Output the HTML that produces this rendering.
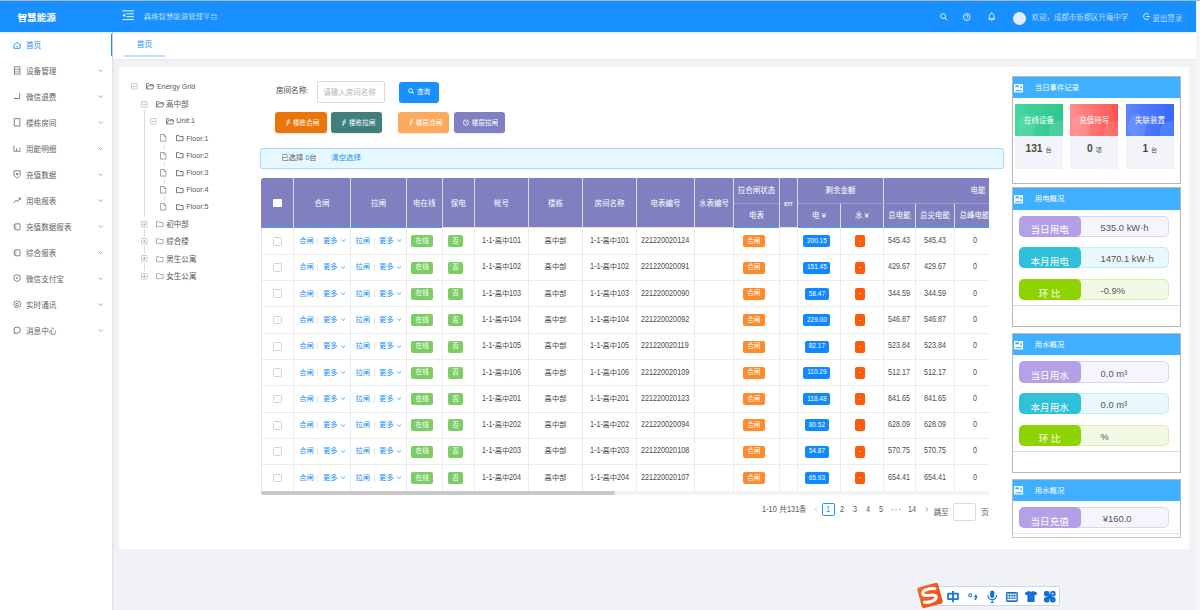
<!DOCTYPE html>
<html><head><meta charset="utf-8"><title>智慧能源</title>
<style>
html,body{margin:0;padding:0}
body{width:1200px;height:610px;overflow:hidden;position:relative;font-family:"Liberation Sans","Noto Sans CJK SC",sans-serif;background:#f0f2f5}
.b{position:absolute}
.t{position:absolute;white-space:nowrap}
svg.b{overflow:visible}
.d{display:inline-block}
.d>span{display:inline-block;transform-origin:0 0;line-height:1}
</style></head><body>
<div class="b" style="left:0.00px;top:0.00px;width:1200.00px;height:610.00px;background:#f0f2f5"></div><div class="b" style="left:1196.00px;top:0.00px;width:4.00px;height:610.00px;background:#f6f6f6"></div><div class="b" style="left:0.00px;top:31.90px;width:112.20px;height:578.10px;background:#fff;box-shadow:1px 0 3px rgba(0,21,41,.06)"></div><div class="b" style="left:113.20px;top:31.90px;width:1082.80px;height:27.10px;background:#fff;box-shadow:0 1px 2px rgba(0,0,0,.04)"></div><div class="b" style="left:119.00px;top:67.00px;width:1070.20px;height:482.20px;background:#fff"></div><div class="b" style="left:112.20px;top:31.90px;width:1.00px;height:27.10px;background:#d2d2d2"></div><div class="b" style="left:112.20px;top:59.00px;width:1.00px;height:551.00px;background:#e3e5e9"></div><div class="b" style="left:0.00px;top:0.00px;width:1196.00px;height:32.00px;background:#1890ff;box-shadow:0 1px 2px rgba(0,21,41,.12)"></div><div class="b" style="left:0.00px;top:0.00px;width:1200.00px;height:1.00px;background:#a9b7c6"></div><div class="t" style="top:8.20px;font-size:9.6px;line-height:19.2px;color:#fff;font-weight:bold;left:17.50px;">智慧能源</div><svg class="b" style="left:121.8px;top:9.6px" width="12.2" height="10.6" viewBox="0 0 12.2 10.6"><g stroke="#fff" stroke-width=".95" fill="none"><line x1="0.3" y1="0.9" x2="11.9" y2="0.9"/><line x1="4.4" y1="3.8" x2="11.9" y2="3.8"/><line x1="4.4" y1="6.7" x2="11.9" y2="6.7"/><line x1="0.3" y1="9.6" x2="11.9" y2="9.6"/></g><path d="M0.4 5.25 L3.2 3.5 L3.2 7 Z" fill="#fff"/></svg><div class="t" style="top:9.80px;font-size:7.4px;line-height:14.8px;color:#fff;left:143.80px;font-weight:300;">森维智慧能源管理平台</div><svg class="b" style="left:939.8px;top:12.8px" width="8" height="8" viewBox="0 0 8 8"><circle cx="3.1" cy="3.1" r="2.4" stroke="#fff" stroke-width=".85" fill="none"/><line x1="4.9" y1="4.9" x2="7.2" y2="7.2" stroke="#fff" stroke-width=".95"/></svg><svg class="b" style="left:962.6px;top:12.8px" width="8" height="8.4" viewBox="0 0 8 8.4"><ellipse cx="3.8" cy="4" rx="3.3" ry="3.5" stroke="#fff" stroke-width=".8" fill="none"/><path d="M2.7 3.2 Q2.8 2.1 3.8 2.1 Q4.9 2.1 4.9 3.1 Q4.9 3.8 3.9 4.3 L3.9 5" stroke="#fff" stroke-width=".7" fill="none"/><circle cx="3.9" cy="6" r=".45" fill="#fff"/></svg><svg class="b" style="left:988px;top:11.8px" width="7.4" height="9.2" viewBox="0 0 7.4 9.2"><path d="M1.3 7 L1.3 4.2 Q1.3 1.6 3.7 1.6 Q6.1 1.6 6.1 4.2 L6.1 7 Z" stroke="#fff" stroke-width=".8" fill="none"/><line x1=".4" y1="7.1" x2="7" y2="7.1" stroke="#fff" stroke-width=".8"/><line x1="3.7" y1=".3" x2="3.7" y2="1.6" stroke="#fff" stroke-width=".8"/><path d="M2.9 7.9 Q3.7 9 4.5 7.9" stroke="#fff" stroke-width=".75" fill="none"/></svg><div class="b" style="left:1013.30px;top:11.60px;width:13.00px;height:13.00px;background:#e3efff;border-radius:50%"></div><div class="t" style="top:10.95px;font-size:7.45px;line-height:14.9px;color:#fff;left:1031.60px;font-weight:300;">欢迎，成都市新都区升庵中学</div><svg class="b" style="left:1143px;top:13.3px" width="7" height="7" viewBox="0 0 7 7"><path d="M5.8 1.6 A3 3 0 1 0 5.8 5.4" stroke="#fff" stroke-width=".85" fill="none"/><line x1="3" y1="3.5" x2="6.8" y2="3.5" stroke="#fff" stroke-width=".85"/></svg><div class="t" style="top:10.90px;font-size:7.5px;line-height:15.0px;color:#fff;left:1152.30px;font-weight:300;">退出登录</div><div class="t" style="top:38.00px;font-size:7.6px;line-height:15.2px;color:#1890ff;left:26.00px;">首页</div><div class="t" style="top:64.00px;font-size:7.6px;line-height:15.2px;color:#626262;left:26.00px;">设备管理</div><svg class="b" style="left:97.8px;top:68.8px" width="5" height="3.4" viewBox="0 0 5 3.4"><path d="M.5 .6 L2.5 2.6 L4.5 .6" stroke="#888" stroke-width=".75" fill="none"/></svg><div class="t" style="top:90.00px;font-size:7.6px;line-height:15.2px;color:#626262;left:26.00px;">微信退费</div><svg class="b" style="left:97.8px;top:94.8px" width="5" height="3.4" viewBox="0 0 5 3.4"><path d="M.5 .6 L2.5 2.6 L4.5 .6" stroke="#888" stroke-width=".75" fill="none"/></svg><div class="t" style="top:116.00px;font-size:7.6px;line-height:15.2px;color:#626262;left:26.00px;">楼栋房间</div><svg class="b" style="left:97.8px;top:120.8px" width="5" height="3.4" viewBox="0 0 5 3.4"><path d="M.5 .6 L2.5 2.6 L4.5 .6" stroke="#888" stroke-width=".75" fill="none"/></svg><div class="t" style="top:142.00px;font-size:7.6px;line-height:15.2px;color:#626262;left:26.00px;">用能明细</div><svg class="b" style="left:97.8px;top:146.8px" width="5" height="3.4" viewBox="0 0 5 3.4"><path d="M.5 .6 L2.5 2.6 L4.5 .6" stroke="#888" stroke-width=".75" fill="none"/></svg><div class="t" style="top:168.00px;font-size:7.6px;line-height:15.2px;color:#626262;left:26.00px;">充值数据</div><svg class="b" style="left:97.8px;top:172.8px" width="5" height="3.4" viewBox="0 0 5 3.4"><path d="M.5 .6 L2.5 2.6 L4.5 .6" stroke="#888" stroke-width=".75" fill="none"/></svg><div class="t" style="top:194.00px;font-size:7.6px;line-height:15.2px;color:#626262;left:26.00px;">用电报表</div><svg class="b" style="left:97.8px;top:198.8px" width="5" height="3.4" viewBox="0 0 5 3.4"><path d="M.5 .6 L2.5 2.6 L4.5 .6" stroke="#888" stroke-width=".75" fill="none"/></svg><div class="t" style="top:220.00px;font-size:7.6px;line-height:15.2px;color:#626262;left:26.00px;">充值数据报表</div><svg class="b" style="left:97.8px;top:224.8px" width="5" height="3.4" viewBox="0 0 5 3.4"><path d="M.5 .6 L2.5 2.6 L4.5 .6" stroke="#888" stroke-width=".75" fill="none"/></svg><div class="t" style="top:246.00px;font-size:7.6px;line-height:15.2px;color:#626262;left:26.00px;">综合报表</div><svg class="b" style="left:97.8px;top:250.8px" width="5" height="3.4" viewBox="0 0 5 3.4"><path d="M.5 .6 L2.5 2.6 L4.5 .6" stroke="#888" stroke-width=".75" fill="none"/></svg><div class="t" style="top:272.00px;font-size:7.6px;line-height:15.2px;color:#626262;left:26.00px;">微信支付宝</div><svg class="b" style="left:97.8px;top:276.8px" width="5" height="3.4" viewBox="0 0 5 3.4"><path d="M.5 .6 L2.5 2.6 L4.5 .6" stroke="#888" stroke-width=".75" fill="none"/></svg><div class="t" style="top:298.00px;font-size:7.6px;line-height:15.2px;color:#626262;left:26.00px;">实时通讯</div><svg class="b" style="left:97.8px;top:302.8px" width="5" height="3.4" viewBox="0 0 5 3.4"><path d="M.5 .6 L2.5 2.6 L4.5 .6" stroke="#888" stroke-width=".75" fill="none"/></svg><div class="t" style="top:324.00px;font-size:7.6px;line-height:15.2px;color:#626262;left:26.00px;">消息中心</div><svg class="b" style="left:97.8px;top:328.8px" width="5" height="3.4" viewBox="0 0 5 3.4"><path d="M.5 .6 L2.5 2.6 L4.5 .6" stroke="#888" stroke-width=".75" fill="none"/></svg><div class="b" style="left:110.80px;top:34.00px;width:1.40px;height:22.20px;background:#1890ff"></div><svg class="b" style="left:12.5px;top:41.0px" width="9" height="8.5" viewBox="0 0 9 8.5"><path d="M.6 4.5 L4.15 1.1 L8.0 4.5 M.9 4.3 L.9 7.3 L7.1 7.3 L7.1 3.9 M3.6 5.6 L5.0 5.6" stroke="#1890ff" stroke-width=".9" fill="none" stroke-linejoin="round"/></svg><svg class="b" style="left:12.8px;top:66.0px" width="8" height="9" viewBox="0 0 8 9"><rect x="1.3" y=".9" width="5.6" height="7.2" stroke="#666" stroke-width=".75" fill="none"/><line x1="1.3" y1="3.4" x2="6.9" y2="3.4" stroke="#666" stroke-width=".7"/><line x1="1.3" y1="5.9" x2="6.9" y2="5.9" stroke="#666" stroke-width=".7"/></svg><svg class="b" style="left:12.8px;top:92.0px" width="8" height="9" viewBox="0 0 8 9"><path d="M6.6 1.2 L6.6 6.5 L1.4 6.5" stroke="#666" stroke-width=".8" fill="none"/><rect x="1.1" y="5.9" width="1.1" height="1.2" fill="#666"/></svg><svg class="b" style="left:12.8px;top:118.0px" width="8" height="9" viewBox="0 0 8 9"><path d="M1.3 .6 L6.9 .6 L6.9 8.1 L4.6 8.1 L4.1 7.3 L3.6 8.1 L1.3 8.1 Z" stroke="#666" stroke-width=".8" fill="none" stroke-linejoin="round"/></svg><svg class="b" style="left:12.8px;top:144.0px" width="8" height="9" viewBox="0 0 8 9"><path d="M.9 1.4 L.9 7.3 L7.8 7.3" stroke="#666" stroke-width=".75" fill="none"/><path d="M3.3 7 L3.3 4.6 Q3.7 3.2 4.1 4.6 L4.1 7 Z" fill="#666"/><line x1="6.9" y1="3.2" x2="6.9" y2="7" stroke="#666" stroke-width=".6"/></svg><svg class="b" style="left:12.8px;top:170.0px" width="8" height="9" viewBox="0 0 8 9"><path d="M1 .8 L7.2 .8 L7.2 5.3 L4.1 8.3 L1 5.3 Z" stroke="#666" stroke-width=".8" fill="none" stroke-linejoin="round"/><circle cx="4.1" cy="4.1" r="1.05" fill="#666"/></svg><svg class="b" style="left:12.8px;top:196.0px" width="8" height="9" viewBox="0 0 8 9"><path d="M.8 6.8 L3 4.2 L4.6 5.6 L7.4 2.2" stroke="#666" stroke-width=".9" fill="none"/><path d="M5.6 2 L7.5 2 L7.5 3.9" stroke="#666" stroke-width=".8" fill="none"/></svg><svg class="b" style="left:12.8px;top:222.0px" width="8" height="9" viewBox="0 0 8 9"><path d="M2.7 1.8 L7 1.8 L7 7.8 L2.7 7.8 Z" stroke="#666" stroke-width=".75" fill="none"/><path d="M2.7 1.8 Q1.3 2 1.3 3.3 L1.3 6.5 Q1.4 7.7 2.7 7.8" stroke="#666" stroke-width=".8" fill="#ddd"/></svg><svg class="b" style="left:12.8px;top:248.0px" width="8" height="9" viewBox="0 0 8 9"><path d="M2.7 1.8 L7 1.8 L7 7.8 L2.7 7.8 Z" stroke="#666" stroke-width=".75" fill="none"/><path d="M2.7 1.8 Q1.3 2 1.3 3.3 L1.3 6.5 Q1.4 7.7 2.7 7.8" stroke="#666" stroke-width=".8" fill="#ddd"/></svg><svg class="b" style="left:12.8px;top:274.0px" width="8" height="9" viewBox="0 0 8 9"><path d="M4.1 .6 L7.1 1.9 L7.1 5.7 L4.1 7.6 L1.1 5.7 L1.1 1.9 Z" stroke="#666" stroke-width=".8" fill="none" stroke-linejoin="round"/><ellipse cx="4.1" cy="4.1" rx=".7" ry="1.1" fill="#666"/></svg><svg class="b" style="left:12.8px;top:300.0px" width="8" height="9" viewBox="0 0 8 9"><circle cx="4" cy="4.5" r="1.3" stroke="#666" stroke-width=".8" fill="none"/><path d="M4 .7 L5.1 1.6 L6.6 1.3 L6.9 2.8 L8 3.9 L7.1 5 L7.3 6.6 L5.8 6.9 L4.6 8 L3.5 7.1 L1.9 7.3 L1.6 5.8 L.5 4.6 L1.4 3.5 L1.2 1.9 L2.7 1.6 Z" stroke="#666" stroke-width=".75" fill="none"/></svg><svg class="b" style="left:12.8px;top:326.0px" width="8" height="9" viewBox="0 0 8 9"><path d="M1 7.5 L1.6 5.9 Q.7 4.9 .8 4 Q1 1.1 4.1 1 Q7.3 1 7.4 4 Q7.4 7.2 4 7.3 Q2.8 7.3 2.3 7 Z" stroke="#666" stroke-width=".85" fill="none"/></svg><div class="t" style="top:37.30px;font-size:7.7px;line-height:15.4px;color:#1890ff;left:136.80px;">首页</div><div class="b" style="left:124.00px;top:55.00px;width:40.70px;height:1.80px;background:#bfdfff"></div><div class="b" style="left:144.30px;top:109.50px;width:0.80px;height:107.00px;background:#d9d9d9"></div><div class="b" style="left:164.20px;top:144.70px;width:0.70px;height:4.50px;background:#ddd"></div><div class="b" style="left:164.20px;top:161.90px;width:0.70px;height:4.50px;background:#ddd"></div><div class="b" style="left:164.20px;top:179.10px;width:0.70px;height:4.50px;background:#ddd"></div><div class="b" style="left:164.20px;top:196.30px;width:0.70px;height:4.50px;background:#ddd"></div><div class="b" style="left:144.30px;top:228.50px;width:0.80px;height:8.50px;background:#ddd"></div><div class="b" style="left:144.30px;top:245.70px;width:0.80px;height:8.50px;background:#ddd"></div><div class="b" style="left:144.30px;top:262.90px;width:0.80px;height:8.50px;background:#ddd"></div><svg class="b" style="left:131.1px;top:83.3px" width="6.6" height="6.6" viewBox="0 0 6.6 6.6"><rect x=".5" y=".5" width="5.6" height="5.6" rx=".6" stroke="#bbb" stroke-width=".8" fill="#fff"/><line x1="1.8" y1="3.3" x2="4.8" y2="3.3" stroke="#999" stroke-width=".7"/></svg><svg class="b" style="left:145.8px;top:83.3px" width="8.4" height="6.6" viewBox="0 0 8.4 6.6"><path d="M.5 6 L.5 .6 L3 .6 L3.8 1.5 L7 1.5 L7 2.6 M.5 6 L2 2.8 L8 2.8 L6.6 6 Z" stroke="#555" stroke-width=".7" fill="none" stroke-linejoin="round"/></svg><div class="t" style="top:79.90px;font-size:7.2px;line-height:14.4px;color:#595959;left:157.00px;">Energy Grid</div><svg class="b" style="left:141px;top:100.5px" width="6.6" height="6.6" viewBox="0 0 6.6 6.6"><rect x=".5" y=".5" width="5.6" height="5.6" rx=".6" stroke="#bbb" stroke-width=".8" fill="#fff"/><line x1="1.8" y1="3.3" x2="4.8" y2="3.3" stroke="#999" stroke-width=".7"/></svg><svg class="b" style="left:155.8px;top:100.5px" width="8.4" height="6.6" viewBox="0 0 8.4 6.6"><path d="M.5 6 L.5 .6 L3 .6 L3.8 1.5 L7 1.5 L7 2.6 M.5 6 L2 2.8 L8 2.8 L6.6 6 Z" stroke="#555" stroke-width=".7" fill="none" stroke-linejoin="round"/></svg><div class="t" style="top:96.70px;font-size:7.6px;line-height:15.2px;color:#595959;left:166.00px;">高中部</div><svg class="b" style="left:150.4px;top:117.7px" width="6.6" height="6.6" viewBox="0 0 6.6 6.6"><rect x=".5" y=".5" width="5.6" height="5.6" rx=".6" stroke="#bbb" stroke-width=".8" fill="#fff"/><line x1="1.8" y1="3.3" x2="4.8" y2="3.3" stroke="#999" stroke-width=".7"/></svg><svg class="b" style="left:165.8px;top:117.7px" width="8.4" height="6.6" viewBox="0 0 8.4 6.6"><path d="M.5 6 L.5 .6 L3 .6 L3.8 1.5 L7 1.5 L7 2.6 M.5 6 L2 2.8 L8 2.8 L6.6 6 Z" stroke="#555" stroke-width=".7" fill="none" stroke-linejoin="round"/></svg><div class="t" style="top:114.30px;font-size:7.2px;line-height:14.4px;color:#595959;left:176.20px;">Unit:1</div><svg class="b" style="left:160.4px;top:134.39999999999998px" width="6.4" height="7.6" viewBox="0 0 6.4 7.6"><path d="M.5 .5 L4 .5 L5.9 2.4 L5.9 7.1 L.5 7.1 Z M4 .5 L4 2.4 L5.9 2.4" stroke="#888" stroke-width=".75" fill="none" stroke-linejoin="round"/></svg><svg class="b" style="left:175.8px;top:135.1px" width="7.6" height="6.2" viewBox="0 0 7.6 6.2"><path d="M.5 5.7 L.5 .6 L2.9 .6 L3.7 1.5 L7.1 1.5 L7.1 5.7 Z" stroke="#555" stroke-width=".8" fill="none" stroke-linejoin="round"/></svg><div class="t" style="top:131.50px;font-size:7.2px;line-height:14.4px;color:#595959;left:186.20px;">Floor:1</div><svg class="b" style="left:160.4px;top:151.59999999999997px" width="6.4" height="7.6" viewBox="0 0 6.4 7.6"><path d="M.5 .5 L4 .5 L5.9 2.4 L5.9 7.1 L.5 7.1 Z M4 .5 L4 2.4 L5.9 2.4" stroke="#888" stroke-width=".75" fill="none" stroke-linejoin="round"/></svg><svg class="b" style="left:175.8px;top:152.29999999999998px" width="7.6" height="6.2" viewBox="0 0 7.6 6.2"><path d="M.5 5.7 L.5 .6 L2.9 .6 L3.7 1.5 L7.1 1.5 L7.1 5.7 Z" stroke="#555" stroke-width=".8" fill="none" stroke-linejoin="round"/></svg><div class="t" style="top:148.70px;font-size:7.2px;line-height:14.4px;color:#595959;left:186.20px;">Floor:2</div><svg class="b" style="left:160.4px;top:168.79999999999998px" width="6.4" height="7.6" viewBox="0 0 6.4 7.6"><path d="M.5 .5 L4 .5 L5.9 2.4 L5.9 7.1 L.5 7.1 Z M4 .5 L4 2.4 L5.9 2.4" stroke="#888" stroke-width=".75" fill="none" stroke-linejoin="round"/></svg><svg class="b" style="left:175.8px;top:169.5px" width="7.6" height="6.2" viewBox="0 0 7.6 6.2"><path d="M.5 5.7 L.5 .6 L2.9 .6 L3.7 1.5 L7.1 1.5 L7.1 5.7 Z" stroke="#555" stroke-width=".8" fill="none" stroke-linejoin="round"/></svg><div class="t" style="top:165.90px;font-size:7.2px;line-height:14.4px;color:#595959;left:186.20px;">Floor:3</div><svg class="b" style="left:160.4px;top:185.99999999999997px" width="6.4" height="7.6" viewBox="0 0 6.4 7.6"><path d="M.5 .5 L4 .5 L5.9 2.4 L5.9 7.1 L.5 7.1 Z M4 .5 L4 2.4 L5.9 2.4" stroke="#888" stroke-width=".75" fill="none" stroke-linejoin="round"/></svg><svg class="b" style="left:175.8px;top:186.7px" width="7.6" height="6.2" viewBox="0 0 7.6 6.2"><path d="M.5 5.7 L.5 .6 L2.9 .6 L3.7 1.5 L7.1 1.5 L7.1 5.7 Z" stroke="#555" stroke-width=".8" fill="none" stroke-linejoin="round"/></svg><div class="t" style="top:183.10px;font-size:7.2px;line-height:14.4px;color:#595959;left:186.20px;">Floor:4</div><svg class="b" style="left:160.4px;top:203.2px" width="6.4" height="7.6" viewBox="0 0 6.4 7.6"><path d="M.5 .5 L4 .5 L5.9 2.4 L5.9 7.1 L.5 7.1 Z M4 .5 L4 2.4 L5.9 2.4" stroke="#888" stroke-width=".75" fill="none" stroke-linejoin="round"/></svg><svg class="b" style="left:175.8px;top:203.9px" width="7.6" height="6.2" viewBox="0 0 7.6 6.2"><path d="M.5 5.7 L.5 .6 L2.9 .6 L3.7 1.5 L7.1 1.5 L7.1 5.7 Z" stroke="#555" stroke-width=".8" fill="none" stroke-linejoin="round"/></svg><div class="t" style="top:200.30px;font-size:7.2px;line-height:14.4px;color:#595959;left:186.20px;">Floor:5</div><svg class="b" style="left:141px;top:220.89999999999998px" width="6.6" height="6.6" viewBox="0 0 6.6 6.6"><rect x=".5" y=".5" width="5.6" height="5.6" rx=".6" stroke="#bbb" stroke-width=".8" fill="#fff"/><line x1="1.8" y1="3.3" x2="4.8" y2="3.3" stroke="#999" stroke-width=".7"/><line x1="3.3" y1="1.8" x2="3.3" y2="4.8" stroke="#999" stroke-width=".7"/></svg><svg class="b" style="left:156.4px;top:221.1px" width="7.6" height="6.2" viewBox="0 0 7.6 6.2"><path d="M.5 5.7 L.5 .6 L2.9 .6 L3.7 1.5 L7.1 1.5 L7.1 5.7 Z" stroke="#999" stroke-width=".8" fill="none" stroke-linejoin="round"/></svg><div class="t" style="top:217.10px;font-size:7.6px;line-height:15.2px;color:#595959;left:166.20px;">初中部</div><svg class="b" style="left:141px;top:238.09999999999997px" width="6.6" height="6.6" viewBox="0 0 6.6 6.6"><rect x=".5" y=".5" width="5.6" height="5.6" rx=".6" stroke="#bbb" stroke-width=".8" fill="#fff"/><line x1="1.8" y1="3.3" x2="4.8" y2="3.3" stroke="#999" stroke-width=".7"/><line x1="3.3" y1="1.8" x2="3.3" y2="4.8" stroke="#999" stroke-width=".7"/></svg><svg class="b" style="left:156.4px;top:238.29999999999998px" width="7.6" height="6.2" viewBox="0 0 7.6 6.2"><path d="M.5 5.7 L.5 .6 L2.9 .6 L3.7 1.5 L7.1 1.5 L7.1 5.7 Z" stroke="#999" stroke-width=".8" fill="none" stroke-linejoin="round"/></svg><div class="t" style="top:234.30px;font-size:7.6px;line-height:15.2px;color:#595959;left:166.20px;">综合楼</div><svg class="b" style="left:141px;top:255.3px" width="6.6" height="6.6" viewBox="0 0 6.6 6.6"><rect x=".5" y=".5" width="5.6" height="5.6" rx=".6" stroke="#bbb" stroke-width=".8" fill="#fff"/><line x1="1.8" y1="3.3" x2="4.8" y2="3.3" stroke="#999" stroke-width=".7"/><line x1="3.3" y1="1.8" x2="3.3" y2="4.8" stroke="#999" stroke-width=".7"/></svg><svg class="b" style="left:156.4px;top:255.50000000000003px" width="7.6" height="6.2" viewBox="0 0 7.6 6.2"><path d="M.5 5.7 L.5 .6 L2.9 .6 L3.7 1.5 L7.1 1.5 L7.1 5.7 Z" stroke="#999" stroke-width=".8" fill="none" stroke-linejoin="round"/></svg><div class="t" style="top:251.50px;font-size:7.6px;line-height:15.2px;color:#595959;left:166.20px;">男生公寓</div><svg class="b" style="left:141px;top:272.49999999999994px" width="6.6" height="6.6" viewBox="0 0 6.6 6.6"><rect x=".5" y=".5" width="5.6" height="5.6" rx=".6" stroke="#bbb" stroke-width=".8" fill="#fff"/><line x1="1.8" y1="3.3" x2="4.8" y2="3.3" stroke="#999" stroke-width=".7"/><line x1="3.3" y1="1.8" x2="3.3" y2="4.8" stroke="#999" stroke-width=".7"/></svg><svg class="b" style="left:156.4px;top:272.69999999999993px" width="7.6" height="6.2" viewBox="0 0 7.6 6.2"><path d="M.5 5.7 L.5 .6 L2.9 .6 L3.7 1.5 L7.1 1.5 L7.1 5.7 Z" stroke="#999" stroke-width=".8" fill="none" stroke-linejoin="round"/></svg><div class="t" style="top:268.70px;font-size:7.6px;line-height:15.2px;color:#595959;left:166.20px;">女生公寓</div><div class="t" style="top:82.50px;font-size:7.6px;line-height:15.2px;color:#444;left:275.90px;">房间名称:</div><div class="b" style="left:317.30px;top:81.30px;width:68.20px;height:21.30px;box-sizing:border-box;border:1px solid #d9d9d9;border-radius:2px;background:#fff"></div><div class="t" style="top:84.50px;font-size:7.5px;line-height:15.0px;color:#b5b5b5;left:323.30px;">请输入房间名称</div><div class="b" style="left:399.00px;top:81.60px;width:39.90px;height:21.40px;background:#1890ff;border-radius:3px;box-shadow:0 1px 2px rgba(0,0,0,.08)"></div><svg class="b" style="left:407.6px;top:87.6px" width="6.4" height="6.4" viewBox="0 0 6.4 6.4"><circle cx="2.6" cy="2.6" r="2" stroke="#fff" stroke-width=".9" fill="none"/><line x1="4" y1="4" x2="5.9" y2="5.9" stroke="#fff" stroke-width=".9"/></svg><div class="t" style="top:85.40px;font-size:6.6px;line-height:13.2px;color:#fff;left:417.00px;">查询</div><div class="b" style="left:275.00px;top:112.00px;width:51.50px;height:21.00px;background:#ea7609;border-radius:3px;box-shadow:0 1px 2px rgba(0,0,0,.1)"></div><svg class="b" style="left:284.5px;top:118.6px" width="6" height="7" viewBox="0 0 6 7"><path d="M3.8 .4 L1.2 3.8 L3 3.8 L1.6 6.6 L4.8 2.8 L3 2.8 L4.6 .4" stroke="#fff" stroke-width=".7" fill="none" stroke-linejoin="round"/></svg><div class="t" style="top:116.20px;font-size:6.6px;line-height:13.2px;color:#fff;left:293.00px;">楼栋合闸</div><div class="b" style="left:331.00px;top:112.00px;width:50.80px;height:21.00px;background:#417f7c;border-radius:3px;box-shadow:0 1px 2px rgba(0,0,0,.1)"></div><svg class="b" style="left:340.5px;top:118.6px" width="6" height="7" viewBox="0 0 6 7"><path d="M3.8 .4 L1.2 3.8 L3 3.8 L1.6 6.6 L4.8 2.8 L3 2.8 L4.6 .4" stroke="#fff" stroke-width=".7" fill="none" stroke-linejoin="round"/></svg><div class="t" style="top:116.20px;font-size:6.6px;line-height:13.2px;color:#fff;left:349.00px;">楼栋拉闸</div><div class="b" style="left:398.00px;top:112.00px;width:50.80px;height:21.00px;background:#fdaa5e;border-radius:3px;box-shadow:0 1px 2px rgba(0,0,0,.1)"></div><svg class="b" style="left:407.5px;top:118.6px" width="6" height="7" viewBox="0 0 6 7"><path d="M3.8 .4 L1.2 3.8 L3 3.8 L1.6 6.6 L4.8 2.8 L3 2.8 L4.6 .4" stroke="#fff" stroke-width=".7" fill="none" stroke-linejoin="round"/></svg><div class="t" style="top:116.20px;font-size:6.6px;line-height:13.2px;color:#fff;left:416.00px;">楼层合闸</div><div class="b" style="left:453.80px;top:112.00px;width:51.00px;height:21.00px;background:#8080c0;border-radius:3px;box-shadow:0 1px 2px rgba(0,0,0,.1)"></div><svg class="b" style="left:463.3px;top:118.6px" width="6" height="7" viewBox="0 0 6 7"><circle cx="3" cy="3.6" r="2.7" stroke="#fff" stroke-width=".75" fill="none"/><path d="M3 2 L3 3.7 L4.3 4.5" stroke="#fff" stroke-width=".7" fill="none"/></svg><div class="t" style="top:116.20px;font-size:6.6px;line-height:13.2px;color:#fff;left:471.80px;">楼层拉闸</div><div class="b" style="left:260.20px;top:147.60px;width:743.60px;height:21.20px;box-sizing:border-box;background:#e6f7ff;border:1px solid #a6dcff;border-radius:2px"></div><div class="t" style="top:151.30px;font-size:7.3px;line-height:14.6px;color:#595959;left:281.30px;">已选择 <span style="color:#1890ff">0</span>台</div><div class="t" style="top:151.20px;font-size:7.4px;line-height:14.8px;color:#1890ff;left:331.30px;">清空选择</div><div class="b" style="left:260.5px;top:178.0px;width:728.5px;height:317.3px;overflow:hidden"><div class="b" style="left:0.00px;top:0.00px;width:839.50px;height:49.80px;background:#8080c0;border-radius:2.5px 0 0 0"></div><div class="b" style="left:0.00px;top:48.70px;width:839.50px;height:1.30px;background:#e3e3e3"></div><div class="b" style="left:0.00px;top:48.70px;width:181.80px;height:1.30px;background:#3ea1f7"></div><div class="b" style="left:473.10px;top:48.70px;width:45.80px;height:1.30px;background:#3ea1f7"></div><div class="b" style="left:537.10px;top:48.70px;width:302.40px;height:1.30px;background:#3ea1f7"></div><div class="b" style="left:32.55px;top:0.00px;width:0.70px;height:49.80px;background:#dcdce8"></div><div class="b" style="left:89.55px;top:0.00px;width:0.70px;height:49.80px;background:#dcdce8"></div><div class="b" style="left:145.55px;top:0.00px;width:0.70px;height:49.80px;background:#dcdce8"></div><div class="b" style="left:181.45px;top:0.00px;width:0.70px;height:49.80px;background:#dcdce8"></div><div class="b" style="left:213.55px;top:0.00px;width:0.70px;height:49.80px;background:#dcdce8"></div><div class="b" style="left:267.85px;top:0.00px;width:0.70px;height:49.80px;background:#dcdce8"></div><div class="b" style="left:321.55px;top:0.00px;width:0.70px;height:49.80px;background:#dcdce8"></div><div class="b" style="left:375.55px;top:0.00px;width:0.70px;height:49.80px;background:#dcdce8"></div><div class="b" style="left:433.55px;top:0.00px;width:0.70px;height:49.80px;background:#dcdce8"></div><div class="b" style="left:472.75px;top:0.00px;width:0.70px;height:49.80px;background:#dcdce8"></div><div class="b" style="left:518.55px;top:0.00px;width:0.70px;height:49.80px;background:#dcdce8"></div><div class="b" style="left:536.75px;top:0.00px;width:0.70px;height:49.80px;background:#dcdce8"></div><div class="b" style="left:622.55px;top:0.00px;width:0.70px;height:49.80px;background:#dcdce8"></div><div class="b" style="left:579.55px;top:25.10px;width:0.70px;height:24.70px;background:#dcdce8"></div><div class="b" style="left:654.55px;top:25.10px;width:0.70px;height:24.70px;background:#dcdce8"></div><div class="b" style="left:693.75px;top:25.10px;width:0.70px;height:24.70px;background:#dcdce8"></div><div class="b" style="left:473.10px;top:24.60px;width:45.80px;height:1.00px;background:#9d9dd0"></div><div class="b" style="left:537.10px;top:24.60px;width:302.40px;height:1.00px;background:#9d9dd0"></div><div class="b" style="left:12.90px;top:21.00px;width:8.60px;height:8.20px;background:#fff;border-radius:1px"></div><div class="t" style="top:17.70px;font-size:7.5px;line-height:15.0px;color:#fff;left:21.40px;width:80px;text-align:center;">合闸</div><div class="t" style="top:17.70px;font-size:7.5px;line-height:15.0px;color:#fff;left:77.90px;width:80px;text-align:center;">拉闸</div><div class="t" style="top:17.70px;font-size:7.5px;line-height:15.0px;color:#fff;left:123.85px;width:80px;text-align:center;">电在线</div><div class="t" style="top:17.70px;font-size:7.5px;line-height:15.0px;color:#fff;left:157.85px;width:80px;text-align:center;">保电</div><div class="t" style="top:17.70px;font-size:7.5px;line-height:15.0px;color:#fff;left:201.05px;width:80px;text-align:center;">帐号</div><div class="t" style="top:17.70px;font-size:7.5px;line-height:15.0px;color:#fff;left:255.05px;width:80px;text-align:center;">楼栋</div><div class="t" style="top:17.70px;font-size:7.5px;line-height:15.0px;color:#fff;left:308.90px;width:80px;text-align:center;">房间名称</div><div class="t" style="top:17.70px;font-size:7.5px;line-height:15.0px;color:#fff;left:364.90px;width:80px;text-align:center;">电表编号</div><div class="t" style="top:17.70px;font-size:7.5px;line-height:15.0px;color:#fff;left:413.50px;width:80px;text-align:center;">水表编号</div><div class="t" style="top:17.70px;font-size:7.5px;line-height:15.0px;color:#fff;left:488.00px;width:80px;text-align:center;">err</div><div class="t" style="top:5.10px;font-size:7.5px;line-height:15.0px;color:#fff;left:456.00px;width:80px;text-align:center;">拉合闸状态</div><div class="t" style="top:30.10px;font-size:7.5px;line-height:15.0px;color:#fff;left:456.00px;width:80px;text-align:center;">电表</div><div class="t" style="top:5.10px;font-size:7.5px;line-height:15.0px;color:#fff;left:540.00px;width:80px;text-align:center;">剩余金额</div><div class="t" style="top:30.10px;font-size:7.5px;line-height:15.0px;color:#fff;left:518.50px;width:80px;text-align:center;">电 ¥</div><div class="t" style="top:30.10px;font-size:7.5px;line-height:15.0px;color:#fff;left:561.40px;width:80px;text-align:center;">水 ¥</div><div class="t" style="top:5.10px;font-size:7.5px;line-height:15.0px;color:#fff;left:677.40px;width:80px;text-align:center;">电能</div><div class="t" style="top:30.10px;font-size:7.5px;line-height:15.0px;color:#fff;left:598.90px;width:80px;text-align:center;">总电能</div><div class="t" style="top:30.10px;font-size:7.5px;line-height:15.0px;color:#fff;left:634.50px;width:80px;text-align:center;">总尖电能</div><div class="t" style="top:30.10px;font-size:7.5px;line-height:15.0px;color:#fff;left:674.10px;width:80px;text-align:center;">总峰电能</div><div class="b" style="left:0.00px;top:75.80px;width:839.50px;height:1.00px;background:#ececec"></div><div class="b" style="left:12.80px;top:58.80px;width:8.60px;height:8.80px;box-sizing:border-box;border:0.8px solid #d4d4d4;border-radius:1.3px;background:#fff"></div><div class="t" style="top:56.00px;font-size:7.3px;line-height:14.6px;color:#1890ff;left:38.80px;">合闸</div><div class="b" style="left:56.80px;top:59.90px;width:0.60px;height:7.00px;background:#e3e3e3"></div><div class="t" style="top:56.00px;font-size:7.3px;line-height:14.6px;color:#1890ff;left:62.40px;">更多</div><svg class="b" style="left:80.69999999999999px;top:61.400000000000006px" width="4.4" height="3.2" viewBox="0 0 4.4 3.2"><path d="M.4 .4 L2.2 2.6 L4 .4" stroke="#1890ff" stroke-width=".7" fill="none"/></svg><div class="t" style="top:56.00px;font-size:7.3px;line-height:14.6px;color:#1890ff;left:95.00px;">拉闸</div><div class="b" style="left:113.00px;top:59.90px;width:0.60px;height:7.00px;background:#e3e3e3"></div><div class="t" style="top:56.00px;font-size:7.3px;line-height:14.6px;color:#1890ff;left:118.60px;">更多</div><svg class="b" style="left:136.89999999999998px;top:61.400000000000006px" width="4.4" height="3.2" viewBox="0 0 4.4 3.2"><path d="M.4 .4 L2.2 2.6 L4 .4" stroke="#1890ff" stroke-width=".7" fill="none"/></svg><div class="b" style="left:150.90px;top:57.30px;width:21.50px;height:12.00px;background:#7ccd66;border-radius:2px"></div><div class="t" style="top:55.80px;font-size:6.6px;line-height:13.2px;color:#fff;left:121.65px;width:80px;text-align:center;">在线</div><div class="b" style="left:187.70px;top:57.30px;width:14.80px;height:12.00px;background:#7ccd66;border-radius:2px"></div><div class="t" style="top:55.80px;font-size:6.6px;line-height:13.2px;color:#fff;left:155.10px;width:80px;text-align:center;">否</div><div class="t" style="top:56.00px;font-size:7.3px;line-height:14.6px;color:#4a4a4a;left:211.05px;width:60px;text-align:center;"><span class="d" style="width:12.85px"><span style="font-size:8.6px;transform:scaleX(0.84)">1-1-</span></span>高中<span class="d" style="width:12.05px"><span style="font-size:8.6px;transform:scaleX(0.84)">101</span></span></div><div class="t" style="top:56.00px;font-size:7.3px;line-height:14.6px;color:#4a4a4a;left:255.05px;width:80px;text-align:center;">高中部</div><div class="t" style="top:56.00px;font-size:7.3px;line-height:14.6px;color:#4a4a4a;left:318.90px;width:60px;text-align:center;"><span class="d" style="width:12.85px"><span style="font-size:8.6px;transform:scaleX(0.84)">1-1-</span></span>高中<span class="d" style="width:12.05px"><span style="font-size:8.6px;transform:scaleX(0.84)">101</span></span></div><div class="t" style="top:56.00px;font-size:7.3px;line-height:14.6px;color:#4a4a4a;left:374.90px;width:60px;text-align:center;"><span class="d" style="width:48.21px"><span style="font-size:8.6px;transform:scaleX(0.84)">221220020124</span></span></div><div class="b" style="left:482.60px;top:57.30px;width:21.50px;height:12.00px;background:#ff8b2c;border-radius:2px"></div><div class="t" style="top:55.80px;font-size:6.6px;line-height:13.2px;color:#fff;left:453.35px;width:80px;text-align:center;">合闸</div><div class="b" style="left:542.84px;top:57.30px;width:27.12px;height:12.00px;background:#1088ff;border-radius:2px"></div><div class="t" style="top:55.90px;font-size:6.5px;line-height:13.0px;color:#fff;left:516.40px;width:80px;text-align:center;">200.15</div><div class="b" style="left:594.50px;top:57.30px;width:10.00px;height:12.00px;background:#ff5a0a;border-radius:2px"></div><div class="t" style="top:55.70px;font-size:6.6px;line-height:13.2px;color:#fff;left:559.50px;width:80px;text-align:center;">-</div><div class="t" style="top:56.00px;font-size:7.3px;line-height:14.6px;color:#4a4a4a;left:598.90px;width:80px;text-align:center;"><span class="d" style="width:22.10px"><span style="font-size:8.6px;transform:scaleX(0.84)">545.43</span></span></div><div class="t" style="top:56.00px;font-size:7.3px;line-height:14.6px;color:#4a4a4a;left:634.50px;width:80px;text-align:center;"><span class="d" style="width:22.10px"><span style="font-size:8.6px;transform:scaleX(0.84)">545.43</span></span></div><div class="t" style="top:56.00px;font-size:7.3px;line-height:14.6px;color:#4a4a4a;left:674.10px;width:80px;text-align:center;"><span class="d" style="width:4.02px"><span style="font-size:8.6px;transform:scaleX(0.84)">0</span></span></div><div class="b" style="left:0.00px;top:102.10px;width:839.50px;height:1.00px;background:#ececec"></div><div class="b" style="left:12.80px;top:85.10px;width:8.60px;height:8.80px;box-sizing:border-box;border:0.8px solid #d4d4d4;border-radius:1.3px;background:#fff"></div><div class="t" style="top:82.30px;font-size:7.3px;line-height:14.6px;color:#1890ff;left:38.80px;">合闸</div><div class="b" style="left:56.80px;top:86.20px;width:0.60px;height:7.00px;background:#e3e3e3"></div><div class="t" style="top:82.30px;font-size:7.3px;line-height:14.6px;color:#1890ff;left:62.40px;">更多</div><svg class="b" style="left:80.69999999999999px;top:87.70000000000005px" width="4.4" height="3.2" viewBox="0 0 4.4 3.2"><path d="M.4 .4 L2.2 2.6 L4 .4" stroke="#1890ff" stroke-width=".7" fill="none"/></svg><div class="t" style="top:82.30px;font-size:7.3px;line-height:14.6px;color:#1890ff;left:95.00px;">拉闸</div><div class="b" style="left:113.00px;top:86.20px;width:0.60px;height:7.00px;background:#e3e3e3"></div><div class="t" style="top:82.30px;font-size:7.3px;line-height:14.6px;color:#1890ff;left:118.60px;">更多</div><svg class="b" style="left:136.89999999999998px;top:87.70000000000005px" width="4.4" height="3.2" viewBox="0 0 4.4 3.2"><path d="M.4 .4 L2.2 2.6 L4 .4" stroke="#1890ff" stroke-width=".7" fill="none"/></svg><div class="b" style="left:150.90px;top:83.60px;width:21.50px;height:12.00px;background:#7ccd66;border-radius:2px"></div><div class="t" style="top:82.10px;font-size:6.6px;line-height:13.2px;color:#fff;left:121.65px;width:80px;text-align:center;">在线</div><div class="b" style="left:187.70px;top:83.60px;width:14.80px;height:12.00px;background:#7ccd66;border-radius:2px"></div><div class="t" style="top:82.10px;font-size:6.6px;line-height:13.2px;color:#fff;left:155.10px;width:80px;text-align:center;">否</div><div class="t" style="top:82.30px;font-size:7.3px;line-height:14.6px;color:#4a4a4a;left:211.05px;width:60px;text-align:center;"><span class="d" style="width:12.85px"><span style="font-size:8.6px;transform:scaleX(0.84)">1-1-</span></span>高中<span class="d" style="width:12.05px"><span style="font-size:8.6px;transform:scaleX(0.84)">102</span></span></div><div class="t" style="top:82.30px;font-size:7.3px;line-height:14.6px;color:#4a4a4a;left:255.05px;width:80px;text-align:center;">高中部</div><div class="t" style="top:82.30px;font-size:7.3px;line-height:14.6px;color:#4a4a4a;left:318.90px;width:60px;text-align:center;"><span class="d" style="width:12.85px"><span style="font-size:8.6px;transform:scaleX(0.84)">1-1-</span></span>高中<span class="d" style="width:12.05px"><span style="font-size:8.6px;transform:scaleX(0.84)">102</span></span></div><div class="t" style="top:82.30px;font-size:7.3px;line-height:14.6px;color:#4a4a4a;left:374.90px;width:60px;text-align:center;"><span class="d" style="width:48.21px"><span style="font-size:8.6px;transform:scaleX(0.84)">221220020091</span></span></div><div class="b" style="left:482.60px;top:83.60px;width:21.50px;height:12.00px;background:#ff8b2c;border-radius:2px"></div><div class="t" style="top:82.10px;font-size:6.6px;line-height:13.2px;color:#fff;left:453.35px;width:80px;text-align:center;">合闸</div><div class="b" style="left:542.84px;top:83.60px;width:27.12px;height:12.00px;background:#1088ff;border-radius:2px"></div><div class="t" style="top:82.20px;font-size:6.5px;line-height:13.0px;color:#fff;left:516.40px;width:80px;text-align:center;">151.45</div><div class="b" style="left:594.50px;top:83.60px;width:10.00px;height:12.00px;background:#ff5a0a;border-radius:2px"></div><div class="t" style="top:82.00px;font-size:6.6px;line-height:13.2px;color:#fff;left:559.50px;width:80px;text-align:center;">-</div><div class="t" style="top:82.30px;font-size:7.3px;line-height:14.6px;color:#4a4a4a;left:598.90px;width:80px;text-align:center;"><span class="d" style="width:22.10px"><span style="font-size:8.6px;transform:scaleX(0.84)">429.67</span></span></div><div class="t" style="top:82.30px;font-size:7.3px;line-height:14.6px;color:#4a4a4a;left:634.50px;width:80px;text-align:center;"><span class="d" style="width:22.10px"><span style="font-size:8.6px;transform:scaleX(0.84)">429.67</span></span></div><div class="t" style="top:82.30px;font-size:7.3px;line-height:14.6px;color:#4a4a4a;left:674.10px;width:80px;text-align:center;"><span class="d" style="width:4.02px"><span style="font-size:8.6px;transform:scaleX(0.84)">0</span></span></div><div class="b" style="left:0.00px;top:128.40px;width:839.50px;height:1.00px;background:#ececec"></div><div class="b" style="left:12.80px;top:111.40px;width:8.60px;height:8.80px;box-sizing:border-box;border:0.8px solid #d4d4d4;border-radius:1.3px;background:#fff"></div><div class="t" style="top:108.60px;font-size:7.3px;line-height:14.6px;color:#1890ff;left:38.80px;">合闸</div><div class="b" style="left:56.80px;top:112.50px;width:0.60px;height:7.00px;background:#e3e3e3"></div><div class="t" style="top:108.60px;font-size:7.3px;line-height:14.6px;color:#1890ff;left:62.40px;">更多</div><svg class="b" style="left:80.69999999999999px;top:114.00000000000006px" width="4.4" height="3.2" viewBox="0 0 4.4 3.2"><path d="M.4 .4 L2.2 2.6 L4 .4" stroke="#1890ff" stroke-width=".7" fill="none"/></svg><div class="t" style="top:108.60px;font-size:7.3px;line-height:14.6px;color:#1890ff;left:95.00px;">拉闸</div><div class="b" style="left:113.00px;top:112.50px;width:0.60px;height:7.00px;background:#e3e3e3"></div><div class="t" style="top:108.60px;font-size:7.3px;line-height:14.6px;color:#1890ff;left:118.60px;">更多</div><svg class="b" style="left:136.89999999999998px;top:114.00000000000006px" width="4.4" height="3.2" viewBox="0 0 4.4 3.2"><path d="M.4 .4 L2.2 2.6 L4 .4" stroke="#1890ff" stroke-width=".7" fill="none"/></svg><div class="b" style="left:150.90px;top:109.90px;width:21.50px;height:12.00px;background:#7ccd66;border-radius:2px"></div><div class="t" style="top:108.40px;font-size:6.6px;line-height:13.2px;color:#fff;left:121.65px;width:80px;text-align:center;">在线</div><div class="b" style="left:187.70px;top:109.90px;width:14.80px;height:12.00px;background:#7ccd66;border-radius:2px"></div><div class="t" style="top:108.40px;font-size:6.6px;line-height:13.2px;color:#fff;left:155.10px;width:80px;text-align:center;">否</div><div class="t" style="top:108.60px;font-size:7.3px;line-height:14.6px;color:#4a4a4a;left:211.05px;width:60px;text-align:center;"><span class="d" style="width:12.85px"><span style="font-size:8.6px;transform:scaleX(0.84)">1-1-</span></span>高中<span class="d" style="width:12.05px"><span style="font-size:8.6px;transform:scaleX(0.84)">103</span></span></div><div class="t" style="top:108.60px;font-size:7.3px;line-height:14.6px;color:#4a4a4a;left:255.05px;width:80px;text-align:center;">高中部</div><div class="t" style="top:108.60px;font-size:7.3px;line-height:14.6px;color:#4a4a4a;left:318.90px;width:60px;text-align:center;"><span class="d" style="width:12.85px"><span style="font-size:8.6px;transform:scaleX(0.84)">1-1-</span></span>高中<span class="d" style="width:12.05px"><span style="font-size:8.6px;transform:scaleX(0.84)">103</span></span></div><div class="t" style="top:108.60px;font-size:7.3px;line-height:14.6px;color:#4a4a4a;left:374.90px;width:60px;text-align:center;"><span class="d" style="width:48.21px"><span style="font-size:8.6px;transform:scaleX(0.84)">221220020090</span></span></div><div class="b" style="left:482.60px;top:109.90px;width:21.50px;height:12.00px;background:#ff8b2c;border-radius:2px"></div><div class="t" style="top:108.40px;font-size:6.6px;line-height:13.2px;color:#fff;left:453.35px;width:80px;text-align:center;">合闸</div><div class="b" style="left:544.65px;top:109.90px;width:23.50px;height:12.00px;background:#1088ff;border-radius:2px"></div><div class="t" style="top:108.50px;font-size:6.5px;line-height:13.0px;color:#fff;left:516.40px;width:80px;text-align:center;">58.47</div><div class="b" style="left:594.50px;top:109.90px;width:10.00px;height:12.00px;background:#ff5a0a;border-radius:2px"></div><div class="t" style="top:108.30px;font-size:6.6px;line-height:13.2px;color:#fff;left:559.50px;width:80px;text-align:center;">-</div><div class="t" style="top:108.60px;font-size:7.3px;line-height:14.6px;color:#4a4a4a;left:598.90px;width:80px;text-align:center;"><span class="d" style="width:22.10px"><span style="font-size:8.6px;transform:scaleX(0.84)">344.59</span></span></div><div class="t" style="top:108.60px;font-size:7.3px;line-height:14.6px;color:#4a4a4a;left:634.50px;width:80px;text-align:center;"><span class="d" style="width:22.10px"><span style="font-size:8.6px;transform:scaleX(0.84)">344.59</span></span></div><div class="t" style="top:108.60px;font-size:7.3px;line-height:14.6px;color:#4a4a4a;left:674.10px;width:80px;text-align:center;"><span class="d" style="width:4.02px"><span style="font-size:8.6px;transform:scaleX(0.84)">0</span></span></div><div class="b" style="left:0.00px;top:154.70px;width:839.50px;height:1.00px;background:#ececec"></div><div class="b" style="left:12.80px;top:137.70px;width:8.60px;height:8.80px;box-sizing:border-box;border:0.8px solid #d4d4d4;border-radius:1.3px;background:#fff"></div><div class="t" style="top:134.90px;font-size:7.3px;line-height:14.6px;color:#1890ff;left:38.80px;">合闸</div><div class="b" style="left:56.80px;top:138.80px;width:0.60px;height:7.00px;background:#e3e3e3"></div><div class="t" style="top:134.90px;font-size:7.3px;line-height:14.6px;color:#1890ff;left:62.40px;">更多</div><svg class="b" style="left:80.69999999999999px;top:140.30000000000007px" width="4.4" height="3.2" viewBox="0 0 4.4 3.2"><path d="M.4 .4 L2.2 2.6 L4 .4" stroke="#1890ff" stroke-width=".7" fill="none"/></svg><div class="t" style="top:134.90px;font-size:7.3px;line-height:14.6px;color:#1890ff;left:95.00px;">拉闸</div><div class="b" style="left:113.00px;top:138.80px;width:0.60px;height:7.00px;background:#e3e3e3"></div><div class="t" style="top:134.90px;font-size:7.3px;line-height:14.6px;color:#1890ff;left:118.60px;">更多</div><svg class="b" style="left:136.89999999999998px;top:140.30000000000007px" width="4.4" height="3.2" viewBox="0 0 4.4 3.2"><path d="M.4 .4 L2.2 2.6 L4 .4" stroke="#1890ff" stroke-width=".7" fill="none"/></svg><div class="b" style="left:150.90px;top:136.20px;width:21.50px;height:12.00px;background:#7ccd66;border-radius:2px"></div><div class="t" style="top:134.70px;font-size:6.6px;line-height:13.2px;color:#fff;left:121.65px;width:80px;text-align:center;">在线</div><div class="b" style="left:187.70px;top:136.20px;width:14.80px;height:12.00px;background:#7ccd66;border-radius:2px"></div><div class="t" style="top:134.70px;font-size:6.6px;line-height:13.2px;color:#fff;left:155.10px;width:80px;text-align:center;">否</div><div class="t" style="top:134.90px;font-size:7.3px;line-height:14.6px;color:#4a4a4a;left:211.05px;width:60px;text-align:center;"><span class="d" style="width:12.85px"><span style="font-size:8.6px;transform:scaleX(0.84)">1-1-</span></span>高中<span class="d" style="width:12.05px"><span style="font-size:8.6px;transform:scaleX(0.84)">104</span></span></div><div class="t" style="top:134.90px;font-size:7.3px;line-height:14.6px;color:#4a4a4a;left:255.05px;width:80px;text-align:center;">高中部</div><div class="t" style="top:134.90px;font-size:7.3px;line-height:14.6px;color:#4a4a4a;left:318.90px;width:60px;text-align:center;"><span class="d" style="width:12.85px"><span style="font-size:8.6px;transform:scaleX(0.84)">1-1-</span></span>高中<span class="d" style="width:12.05px"><span style="font-size:8.6px;transform:scaleX(0.84)">104</span></span></div><div class="t" style="top:134.90px;font-size:7.3px;line-height:14.6px;color:#4a4a4a;left:374.90px;width:60px;text-align:center;"><span class="d" style="width:48.21px"><span style="font-size:8.6px;transform:scaleX(0.84)">221220020092</span></span></div><div class="b" style="left:482.60px;top:136.20px;width:21.50px;height:12.00px;background:#ff8b2c;border-radius:2px"></div><div class="t" style="top:134.70px;font-size:6.6px;line-height:13.2px;color:#fff;left:453.35px;width:80px;text-align:center;">合闸</div><div class="b" style="left:542.84px;top:136.20px;width:27.12px;height:12.00px;background:#1088ff;border-radius:2px"></div><div class="t" style="top:134.80px;font-size:6.5px;line-height:13.0px;color:#fff;left:516.40px;width:80px;text-align:center;">229.00</div><div class="b" style="left:594.50px;top:136.20px;width:10.00px;height:12.00px;background:#ff5a0a;border-radius:2px"></div><div class="t" style="top:134.60px;font-size:6.6px;line-height:13.2px;color:#fff;left:559.50px;width:80px;text-align:center;">-</div><div class="t" style="top:134.90px;font-size:7.3px;line-height:14.6px;color:#4a4a4a;left:598.90px;width:80px;text-align:center;"><span class="d" style="width:22.10px"><span style="font-size:8.6px;transform:scaleX(0.84)">546.87</span></span></div><div class="t" style="top:134.90px;font-size:7.3px;line-height:14.6px;color:#4a4a4a;left:634.50px;width:80px;text-align:center;"><span class="d" style="width:22.10px"><span style="font-size:8.6px;transform:scaleX(0.84)">546.87</span></span></div><div class="t" style="top:134.90px;font-size:7.3px;line-height:14.6px;color:#4a4a4a;left:674.10px;width:80px;text-align:center;"><span class="d" style="width:4.02px"><span style="font-size:8.6px;transform:scaleX(0.84)">0</span></span></div><div class="b" style="left:0.00px;top:181.00px;width:839.50px;height:1.00px;background:#ececec"></div><div class="b" style="left:12.80px;top:164.00px;width:8.60px;height:8.80px;box-sizing:border-box;border:0.8px solid #d4d4d4;border-radius:1.3px;background:#fff"></div><div class="t" style="top:161.20px;font-size:7.3px;line-height:14.6px;color:#1890ff;left:38.80px;">合闸</div><div class="b" style="left:56.80px;top:165.10px;width:0.60px;height:7.00px;background:#e3e3e3"></div><div class="t" style="top:161.20px;font-size:7.3px;line-height:14.6px;color:#1890ff;left:62.40px;">更多</div><svg class="b" style="left:80.69999999999999px;top:166.60000000000002px" width="4.4" height="3.2" viewBox="0 0 4.4 3.2"><path d="M.4 .4 L2.2 2.6 L4 .4" stroke="#1890ff" stroke-width=".7" fill="none"/></svg><div class="t" style="top:161.20px;font-size:7.3px;line-height:14.6px;color:#1890ff;left:95.00px;">拉闸</div><div class="b" style="left:113.00px;top:165.10px;width:0.60px;height:7.00px;background:#e3e3e3"></div><div class="t" style="top:161.20px;font-size:7.3px;line-height:14.6px;color:#1890ff;left:118.60px;">更多</div><svg class="b" style="left:136.89999999999998px;top:166.60000000000002px" width="4.4" height="3.2" viewBox="0 0 4.4 3.2"><path d="M.4 .4 L2.2 2.6 L4 .4" stroke="#1890ff" stroke-width=".7" fill="none"/></svg><div class="b" style="left:150.90px;top:162.50px;width:21.50px;height:12.00px;background:#7ccd66;border-radius:2px"></div><div class="t" style="top:161.00px;font-size:6.6px;line-height:13.2px;color:#fff;left:121.65px;width:80px;text-align:center;">在线</div><div class="b" style="left:187.70px;top:162.50px;width:14.80px;height:12.00px;background:#7ccd66;border-radius:2px"></div><div class="t" style="top:161.00px;font-size:6.6px;line-height:13.2px;color:#fff;left:155.10px;width:80px;text-align:center;">否</div><div class="t" style="top:161.20px;font-size:7.3px;line-height:14.6px;color:#4a4a4a;left:211.05px;width:60px;text-align:center;"><span class="d" style="width:12.85px"><span style="font-size:8.6px;transform:scaleX(0.84)">1-1-</span></span>高中<span class="d" style="width:12.05px"><span style="font-size:8.6px;transform:scaleX(0.84)">105</span></span></div><div class="t" style="top:161.20px;font-size:7.3px;line-height:14.6px;color:#4a4a4a;left:255.05px;width:80px;text-align:center;">高中部</div><div class="t" style="top:161.20px;font-size:7.3px;line-height:14.6px;color:#4a4a4a;left:318.90px;width:60px;text-align:center;"><span class="d" style="width:12.85px"><span style="font-size:8.6px;transform:scaleX(0.84)">1-1-</span></span>高中<span class="d" style="width:12.05px"><span style="font-size:8.6px;transform:scaleX(0.84)">105</span></span></div><div class="t" style="top:161.20px;font-size:7.3px;line-height:14.6px;color:#4a4a4a;left:374.90px;width:60px;text-align:center;"><span class="d" style="width:48.21px"><span style="font-size:8.6px;transform:scaleX(0.84)">221220020119</span></span></div><div class="b" style="left:482.60px;top:162.50px;width:21.50px;height:12.00px;background:#ff8b2c;border-radius:2px"></div><div class="t" style="top:161.00px;font-size:6.6px;line-height:13.2px;color:#fff;left:453.35px;width:80px;text-align:center;">合闸</div><div class="b" style="left:544.65px;top:162.50px;width:23.50px;height:12.00px;background:#1088ff;border-radius:2px"></div><div class="t" style="top:161.10px;font-size:6.5px;line-height:13.0px;color:#fff;left:516.40px;width:80px;text-align:center;">82.17</div><div class="b" style="left:594.50px;top:162.50px;width:10.00px;height:12.00px;background:#ff5a0a;border-radius:2px"></div><div class="t" style="top:160.90px;font-size:6.6px;line-height:13.2px;color:#fff;left:559.50px;width:80px;text-align:center;">-</div><div class="t" style="top:161.20px;font-size:7.3px;line-height:14.6px;color:#4a4a4a;left:598.90px;width:80px;text-align:center;"><span class="d" style="width:22.10px"><span style="font-size:8.6px;transform:scaleX(0.84)">523.84</span></span></div><div class="t" style="top:161.20px;font-size:7.3px;line-height:14.6px;color:#4a4a4a;left:634.50px;width:80px;text-align:center;"><span class="d" style="width:22.10px"><span style="font-size:8.6px;transform:scaleX(0.84)">523.84</span></span></div><div class="t" style="top:161.20px;font-size:7.3px;line-height:14.6px;color:#4a4a4a;left:674.10px;width:80px;text-align:center;"><span class="d" style="width:4.02px"><span style="font-size:8.6px;transform:scaleX(0.84)">0</span></span></div><div class="b" style="left:0.00px;top:207.30px;width:839.50px;height:1.00px;background:#ececec"></div><div class="b" style="left:12.80px;top:190.30px;width:8.60px;height:8.80px;box-sizing:border-box;border:0.8px solid #d4d4d4;border-radius:1.3px;background:#fff"></div><div class="t" style="top:187.50px;font-size:7.3px;line-height:14.6px;color:#1890ff;left:38.80px;">合闸</div><div class="b" style="left:56.80px;top:191.40px;width:0.60px;height:7.00px;background:#e3e3e3"></div><div class="t" style="top:187.50px;font-size:7.3px;line-height:14.6px;color:#1890ff;left:62.40px;">更多</div><svg class="b" style="left:80.69999999999999px;top:192.90000000000003px" width="4.4" height="3.2" viewBox="0 0 4.4 3.2"><path d="M.4 .4 L2.2 2.6 L4 .4" stroke="#1890ff" stroke-width=".7" fill="none"/></svg><div class="t" style="top:187.50px;font-size:7.3px;line-height:14.6px;color:#1890ff;left:95.00px;">拉闸</div><div class="b" style="left:113.00px;top:191.40px;width:0.60px;height:7.00px;background:#e3e3e3"></div><div class="t" style="top:187.50px;font-size:7.3px;line-height:14.6px;color:#1890ff;left:118.60px;">更多</div><svg class="b" style="left:136.89999999999998px;top:192.90000000000003px" width="4.4" height="3.2" viewBox="0 0 4.4 3.2"><path d="M.4 .4 L2.2 2.6 L4 .4" stroke="#1890ff" stroke-width=".7" fill="none"/></svg><div class="b" style="left:150.90px;top:188.80px;width:21.50px;height:12.00px;background:#7ccd66;border-radius:2px"></div><div class="t" style="top:187.30px;font-size:6.6px;line-height:13.2px;color:#fff;left:121.65px;width:80px;text-align:center;">在线</div><div class="b" style="left:187.70px;top:188.80px;width:14.80px;height:12.00px;background:#7ccd66;border-radius:2px"></div><div class="t" style="top:187.30px;font-size:6.6px;line-height:13.2px;color:#fff;left:155.10px;width:80px;text-align:center;">否</div><div class="t" style="top:187.50px;font-size:7.3px;line-height:14.6px;color:#4a4a4a;left:211.05px;width:60px;text-align:center;"><span class="d" style="width:12.85px"><span style="font-size:8.6px;transform:scaleX(0.84)">1-1-</span></span>高中<span class="d" style="width:12.05px"><span style="font-size:8.6px;transform:scaleX(0.84)">106</span></span></div><div class="t" style="top:187.50px;font-size:7.3px;line-height:14.6px;color:#4a4a4a;left:255.05px;width:80px;text-align:center;">高中部</div><div class="t" style="top:187.50px;font-size:7.3px;line-height:14.6px;color:#4a4a4a;left:318.90px;width:60px;text-align:center;"><span class="d" style="width:12.85px"><span style="font-size:8.6px;transform:scaleX(0.84)">1-1-</span></span>高中<span class="d" style="width:12.05px"><span style="font-size:8.6px;transform:scaleX(0.84)">106</span></span></div><div class="t" style="top:187.50px;font-size:7.3px;line-height:14.6px;color:#4a4a4a;left:374.90px;width:60px;text-align:center;"><span class="d" style="width:48.21px"><span style="font-size:8.6px;transform:scaleX(0.84)">221220020109</span></span></div><div class="b" style="left:482.60px;top:188.80px;width:21.50px;height:12.00px;background:#ff8b2c;border-radius:2px"></div><div class="t" style="top:187.30px;font-size:6.6px;line-height:13.2px;color:#fff;left:453.35px;width:80px;text-align:center;">合闸</div><div class="b" style="left:542.84px;top:188.80px;width:27.12px;height:12.00px;background:#1088ff;border-radius:2px"></div><div class="t" style="top:187.40px;font-size:6.5px;line-height:13.0px;color:#fff;left:516.40px;width:80px;text-align:center;">110.29</div><div class="b" style="left:594.50px;top:188.80px;width:10.00px;height:12.00px;background:#ff5a0a;border-radius:2px"></div><div class="t" style="top:187.20px;font-size:6.6px;line-height:13.2px;color:#fff;left:559.50px;width:80px;text-align:center;">-</div><div class="t" style="top:187.50px;font-size:7.3px;line-height:14.6px;color:#4a4a4a;left:598.90px;width:80px;text-align:center;"><span class="d" style="width:22.10px"><span style="font-size:8.6px;transform:scaleX(0.84)">512.17</span></span></div><div class="t" style="top:187.50px;font-size:7.3px;line-height:14.6px;color:#4a4a4a;left:634.50px;width:80px;text-align:center;"><span class="d" style="width:22.10px"><span style="font-size:8.6px;transform:scaleX(0.84)">512.17</span></span></div><div class="t" style="top:187.50px;font-size:7.3px;line-height:14.6px;color:#4a4a4a;left:674.10px;width:80px;text-align:center;"><span class="d" style="width:4.02px"><span style="font-size:8.6px;transform:scaleX(0.84)">0</span></span></div><div class="b" style="left:0.00px;top:233.60px;width:839.50px;height:1.00px;background:#ececec"></div><div class="b" style="left:12.80px;top:216.60px;width:8.60px;height:8.80px;box-sizing:border-box;border:0.8px solid #d4d4d4;border-radius:1.3px;background:#fff"></div><div class="t" style="top:213.80px;font-size:7.3px;line-height:14.6px;color:#1890ff;left:38.80px;">合闸</div><div class="b" style="left:56.80px;top:217.70px;width:0.60px;height:7.00px;background:#e3e3e3"></div><div class="t" style="top:213.80px;font-size:7.3px;line-height:14.6px;color:#1890ff;left:62.40px;">更多</div><svg class="b" style="left:80.69999999999999px;top:219.20000000000005px" width="4.4" height="3.2" viewBox="0 0 4.4 3.2"><path d="M.4 .4 L2.2 2.6 L4 .4" stroke="#1890ff" stroke-width=".7" fill="none"/></svg><div class="t" style="top:213.80px;font-size:7.3px;line-height:14.6px;color:#1890ff;left:95.00px;">拉闸</div><div class="b" style="left:113.00px;top:217.70px;width:0.60px;height:7.00px;background:#e3e3e3"></div><div class="t" style="top:213.80px;font-size:7.3px;line-height:14.6px;color:#1890ff;left:118.60px;">更多</div><svg class="b" style="left:136.89999999999998px;top:219.20000000000005px" width="4.4" height="3.2" viewBox="0 0 4.4 3.2"><path d="M.4 .4 L2.2 2.6 L4 .4" stroke="#1890ff" stroke-width=".7" fill="none"/></svg><div class="b" style="left:150.90px;top:215.10px;width:21.50px;height:12.00px;background:#7ccd66;border-radius:2px"></div><div class="t" style="top:213.60px;font-size:6.6px;line-height:13.2px;color:#fff;left:121.65px;width:80px;text-align:center;">在线</div><div class="b" style="left:187.70px;top:215.10px;width:14.80px;height:12.00px;background:#7ccd66;border-radius:2px"></div><div class="t" style="top:213.60px;font-size:6.6px;line-height:13.2px;color:#fff;left:155.10px;width:80px;text-align:center;">否</div><div class="t" style="top:213.80px;font-size:7.3px;line-height:14.6px;color:#4a4a4a;left:211.05px;width:60px;text-align:center;"><span class="d" style="width:12.85px"><span style="font-size:8.6px;transform:scaleX(0.84)">1-1-</span></span>高中<span class="d" style="width:12.05px"><span style="font-size:8.6px;transform:scaleX(0.84)">201</span></span></div><div class="t" style="top:213.80px;font-size:7.3px;line-height:14.6px;color:#4a4a4a;left:255.05px;width:80px;text-align:center;">高中部</div><div class="t" style="top:213.80px;font-size:7.3px;line-height:14.6px;color:#4a4a4a;left:318.90px;width:60px;text-align:center;"><span class="d" style="width:12.85px"><span style="font-size:8.6px;transform:scaleX(0.84)">1-1-</span></span>高中<span class="d" style="width:12.05px"><span style="font-size:8.6px;transform:scaleX(0.84)">201</span></span></div><div class="t" style="top:213.80px;font-size:7.3px;line-height:14.6px;color:#4a4a4a;left:374.90px;width:60px;text-align:center;"><span class="d" style="width:48.21px"><span style="font-size:8.6px;transform:scaleX(0.84)">221220020123</span></span></div><div class="b" style="left:482.60px;top:215.10px;width:21.50px;height:12.00px;background:#ff8b2c;border-radius:2px"></div><div class="t" style="top:213.60px;font-size:6.6px;line-height:13.2px;color:#fff;left:453.35px;width:80px;text-align:center;">合闸</div><div class="b" style="left:542.84px;top:215.10px;width:27.12px;height:12.00px;background:#1088ff;border-radius:2px"></div><div class="t" style="top:213.70px;font-size:6.5px;line-height:13.0px;color:#fff;left:516.40px;width:80px;text-align:center;">118.48</div><div class="b" style="left:594.50px;top:215.10px;width:10.00px;height:12.00px;background:#ff5a0a;border-radius:2px"></div><div class="t" style="top:213.50px;font-size:6.6px;line-height:13.2px;color:#fff;left:559.50px;width:80px;text-align:center;">-</div><div class="t" style="top:213.80px;font-size:7.3px;line-height:14.6px;color:#4a4a4a;left:598.90px;width:80px;text-align:center;"><span class="d" style="width:22.10px"><span style="font-size:8.6px;transform:scaleX(0.84)">841.65</span></span></div><div class="t" style="top:213.80px;font-size:7.3px;line-height:14.6px;color:#4a4a4a;left:634.50px;width:80px;text-align:center;"><span class="d" style="width:22.10px"><span style="font-size:8.6px;transform:scaleX(0.84)">841.65</span></span></div><div class="t" style="top:213.80px;font-size:7.3px;line-height:14.6px;color:#4a4a4a;left:674.10px;width:80px;text-align:center;"><span class="d" style="width:4.02px"><span style="font-size:8.6px;transform:scaleX(0.84)">0</span></span></div><div class="b" style="left:0.00px;top:259.90px;width:839.50px;height:1.00px;background:#ececec"></div><div class="b" style="left:12.80px;top:242.90px;width:8.60px;height:8.80px;box-sizing:border-box;border:0.8px solid #d4d4d4;border-radius:1.3px;background:#fff"></div><div class="t" style="top:240.10px;font-size:7.3px;line-height:14.6px;color:#1890ff;left:38.80px;">合闸</div><div class="b" style="left:56.80px;top:244.00px;width:0.60px;height:7.00px;background:#e3e3e3"></div><div class="t" style="top:240.10px;font-size:7.3px;line-height:14.6px;color:#1890ff;left:62.40px;">更多</div><svg class="b" style="left:80.69999999999999px;top:245.5px" width="4.4" height="3.2" viewBox="0 0 4.4 3.2"><path d="M.4 .4 L2.2 2.6 L4 .4" stroke="#1890ff" stroke-width=".7" fill="none"/></svg><div class="t" style="top:240.10px;font-size:7.3px;line-height:14.6px;color:#1890ff;left:95.00px;">拉闸</div><div class="b" style="left:113.00px;top:244.00px;width:0.60px;height:7.00px;background:#e3e3e3"></div><div class="t" style="top:240.10px;font-size:7.3px;line-height:14.6px;color:#1890ff;left:118.60px;">更多</div><svg class="b" style="left:136.89999999999998px;top:245.5px" width="4.4" height="3.2" viewBox="0 0 4.4 3.2"><path d="M.4 .4 L2.2 2.6 L4 .4" stroke="#1890ff" stroke-width=".7" fill="none"/></svg><div class="b" style="left:150.90px;top:241.40px;width:21.50px;height:12.00px;background:#7ccd66;border-radius:2px"></div><div class="t" style="top:239.90px;font-size:6.6px;line-height:13.2px;color:#fff;left:121.65px;width:80px;text-align:center;">在线</div><div class="b" style="left:187.70px;top:241.40px;width:14.80px;height:12.00px;background:#7ccd66;border-radius:2px"></div><div class="t" style="top:239.90px;font-size:6.6px;line-height:13.2px;color:#fff;left:155.10px;width:80px;text-align:center;">否</div><div class="t" style="top:240.10px;font-size:7.3px;line-height:14.6px;color:#4a4a4a;left:211.05px;width:60px;text-align:center;"><span class="d" style="width:12.85px"><span style="font-size:8.6px;transform:scaleX(0.84)">1-1-</span></span>高中<span class="d" style="width:12.05px"><span style="font-size:8.6px;transform:scaleX(0.84)">202</span></span></div><div class="t" style="top:240.10px;font-size:7.3px;line-height:14.6px;color:#4a4a4a;left:255.05px;width:80px;text-align:center;">高中部</div><div class="t" style="top:240.10px;font-size:7.3px;line-height:14.6px;color:#4a4a4a;left:318.90px;width:60px;text-align:center;"><span class="d" style="width:12.85px"><span style="font-size:8.6px;transform:scaleX(0.84)">1-1-</span></span>高中<span class="d" style="width:12.05px"><span style="font-size:8.6px;transform:scaleX(0.84)">202</span></span></div><div class="t" style="top:240.10px;font-size:7.3px;line-height:14.6px;color:#4a4a4a;left:374.90px;width:60px;text-align:center;"><span class="d" style="width:48.21px"><span style="font-size:8.6px;transform:scaleX(0.84)">221220020094</span></span></div><div class="b" style="left:482.60px;top:241.40px;width:21.50px;height:12.00px;background:#ff8b2c;border-radius:2px"></div><div class="t" style="top:239.90px;font-size:6.6px;line-height:13.2px;color:#fff;left:453.35px;width:80px;text-align:center;">合闸</div><div class="b" style="left:544.65px;top:241.40px;width:23.50px;height:12.00px;background:#1088ff;border-radius:2px"></div><div class="t" style="top:240.00px;font-size:6.5px;line-height:13.0px;color:#fff;left:516.40px;width:80px;text-align:center;">80.52</div><div class="b" style="left:594.50px;top:241.40px;width:10.00px;height:12.00px;background:#ff5a0a;border-radius:2px"></div><div class="t" style="top:239.80px;font-size:6.6px;line-height:13.2px;color:#fff;left:559.50px;width:80px;text-align:center;">-</div><div class="t" style="top:240.10px;font-size:7.3px;line-height:14.6px;color:#4a4a4a;left:598.90px;width:80px;text-align:center;"><span class="d" style="width:22.10px"><span style="font-size:8.6px;transform:scaleX(0.84)">628.09</span></span></div><div class="t" style="top:240.10px;font-size:7.3px;line-height:14.6px;color:#4a4a4a;left:634.50px;width:80px;text-align:center;"><span class="d" style="width:22.10px"><span style="font-size:8.6px;transform:scaleX(0.84)">628.09</span></span></div><div class="t" style="top:240.10px;font-size:7.3px;line-height:14.6px;color:#4a4a4a;left:674.10px;width:80px;text-align:center;"><span class="d" style="width:4.02px"><span style="font-size:8.6px;transform:scaleX(0.84)">0</span></span></div><div class="b" style="left:0.00px;top:286.20px;width:839.50px;height:1.00px;background:#ececec"></div><div class="b" style="left:12.80px;top:269.20px;width:8.60px;height:8.80px;box-sizing:border-box;border:0.8px solid #d4d4d4;border-radius:1.3px;background:#fff"></div><div class="t" style="top:266.40px;font-size:7.3px;line-height:14.6px;color:#1890ff;left:38.80px;">合闸</div><div class="b" style="left:56.80px;top:270.30px;width:0.60px;height:7.00px;background:#e3e3e3"></div><div class="t" style="top:266.40px;font-size:7.3px;line-height:14.6px;color:#1890ff;left:62.40px;">更多</div><svg class="b" style="left:80.69999999999999px;top:271.80000000000007px" width="4.4" height="3.2" viewBox="0 0 4.4 3.2"><path d="M.4 .4 L2.2 2.6 L4 .4" stroke="#1890ff" stroke-width=".7" fill="none"/></svg><div class="t" style="top:266.40px;font-size:7.3px;line-height:14.6px;color:#1890ff;left:95.00px;">拉闸</div><div class="b" style="left:113.00px;top:270.30px;width:0.60px;height:7.00px;background:#e3e3e3"></div><div class="t" style="top:266.40px;font-size:7.3px;line-height:14.6px;color:#1890ff;left:118.60px;">更多</div><svg class="b" style="left:136.89999999999998px;top:271.80000000000007px" width="4.4" height="3.2" viewBox="0 0 4.4 3.2"><path d="M.4 .4 L2.2 2.6 L4 .4" stroke="#1890ff" stroke-width=".7" fill="none"/></svg><div class="b" style="left:150.90px;top:267.70px;width:21.50px;height:12.00px;background:#7ccd66;border-radius:2px"></div><div class="t" style="top:266.20px;font-size:6.6px;line-height:13.2px;color:#fff;left:121.65px;width:80px;text-align:center;">在线</div><div class="b" style="left:187.70px;top:267.70px;width:14.80px;height:12.00px;background:#7ccd66;border-radius:2px"></div><div class="t" style="top:266.20px;font-size:6.6px;line-height:13.2px;color:#fff;left:155.10px;width:80px;text-align:center;">否</div><div class="t" style="top:266.40px;font-size:7.3px;line-height:14.6px;color:#4a4a4a;left:211.05px;width:60px;text-align:center;"><span class="d" style="width:12.85px"><span style="font-size:8.6px;transform:scaleX(0.84)">1-1-</span></span>高中<span class="d" style="width:12.05px"><span style="font-size:8.6px;transform:scaleX(0.84)">203</span></span></div><div class="t" style="top:266.40px;font-size:7.3px;line-height:14.6px;color:#4a4a4a;left:255.05px;width:80px;text-align:center;">高中部</div><div class="t" style="top:266.40px;font-size:7.3px;line-height:14.6px;color:#4a4a4a;left:318.90px;width:60px;text-align:center;"><span class="d" style="width:12.85px"><span style="font-size:8.6px;transform:scaleX(0.84)">1-1-</span></span>高中<span class="d" style="width:12.05px"><span style="font-size:8.6px;transform:scaleX(0.84)">203</span></span></div><div class="t" style="top:266.40px;font-size:7.3px;line-height:14.6px;color:#4a4a4a;left:374.90px;width:60px;text-align:center;"><span class="d" style="width:48.21px"><span style="font-size:8.6px;transform:scaleX(0.84)">221220020108</span></span></div><div class="b" style="left:482.60px;top:267.70px;width:21.50px;height:12.00px;background:#ff8b2c;border-radius:2px"></div><div class="t" style="top:266.20px;font-size:6.6px;line-height:13.2px;color:#fff;left:453.35px;width:80px;text-align:center;">合闸</div><div class="b" style="left:544.65px;top:267.70px;width:23.50px;height:12.00px;background:#1088ff;border-radius:2px"></div><div class="t" style="top:266.30px;font-size:6.5px;line-height:13.0px;color:#fff;left:516.40px;width:80px;text-align:center;">54.87</div><div class="b" style="left:594.50px;top:267.70px;width:10.00px;height:12.00px;background:#ff5a0a;border-radius:2px"></div><div class="t" style="top:266.10px;font-size:6.6px;line-height:13.2px;color:#fff;left:559.50px;width:80px;text-align:center;">-</div><div class="t" style="top:266.40px;font-size:7.3px;line-height:14.6px;color:#4a4a4a;left:598.90px;width:80px;text-align:center;"><span class="d" style="width:22.10px"><span style="font-size:8.6px;transform:scaleX(0.84)">570.75</span></span></div><div class="t" style="top:266.40px;font-size:7.3px;line-height:14.6px;color:#4a4a4a;left:634.50px;width:80px;text-align:center;"><span class="d" style="width:22.10px"><span style="font-size:8.6px;transform:scaleX(0.84)">570.75</span></span></div><div class="t" style="top:266.40px;font-size:7.3px;line-height:14.6px;color:#4a4a4a;left:674.10px;width:80px;text-align:center;"><span class="d" style="width:4.02px"><span style="font-size:8.6px;transform:scaleX(0.84)">0</span></span></div><div class="b" style="left:0.00px;top:312.50px;width:839.50px;height:1.00px;background:#ececec"></div><div class="b" style="left:12.80px;top:295.50px;width:8.60px;height:8.80px;box-sizing:border-box;border:0.8px solid #d4d4d4;border-radius:1.3px;background:#fff"></div><div class="t" style="top:292.70px;font-size:7.3px;line-height:14.6px;color:#1890ff;left:38.80px;">合闸</div><div class="b" style="left:56.80px;top:296.60px;width:0.60px;height:7.00px;background:#e3e3e3"></div><div class="t" style="top:292.70px;font-size:7.3px;line-height:14.6px;color:#1890ff;left:62.40px;">更多</div><svg class="b" style="left:80.69999999999999px;top:298.1px" width="4.4" height="3.2" viewBox="0 0 4.4 3.2"><path d="M.4 .4 L2.2 2.6 L4 .4" stroke="#1890ff" stroke-width=".7" fill="none"/></svg><div class="t" style="top:292.70px;font-size:7.3px;line-height:14.6px;color:#1890ff;left:95.00px;">拉闸</div><div class="b" style="left:113.00px;top:296.60px;width:0.60px;height:7.00px;background:#e3e3e3"></div><div class="t" style="top:292.70px;font-size:7.3px;line-height:14.6px;color:#1890ff;left:118.60px;">更多</div><svg class="b" style="left:136.89999999999998px;top:298.1px" width="4.4" height="3.2" viewBox="0 0 4.4 3.2"><path d="M.4 .4 L2.2 2.6 L4 .4" stroke="#1890ff" stroke-width=".7" fill="none"/></svg><div class="b" style="left:150.90px;top:294.00px;width:21.50px;height:12.00px;background:#7ccd66;border-radius:2px"></div><div class="t" style="top:292.50px;font-size:6.6px;line-height:13.2px;color:#fff;left:121.65px;width:80px;text-align:center;">在线</div><div class="b" style="left:187.70px;top:294.00px;width:14.80px;height:12.00px;background:#7ccd66;border-radius:2px"></div><div class="t" style="top:292.50px;font-size:6.6px;line-height:13.2px;color:#fff;left:155.10px;width:80px;text-align:center;">否</div><div class="t" style="top:292.70px;font-size:7.3px;line-height:14.6px;color:#4a4a4a;left:211.05px;width:60px;text-align:center;"><span class="d" style="width:12.85px"><span style="font-size:8.6px;transform:scaleX(0.84)">1-1-</span></span>高中<span class="d" style="width:12.05px"><span style="font-size:8.6px;transform:scaleX(0.84)">204</span></span></div><div class="t" style="top:292.70px;font-size:7.3px;line-height:14.6px;color:#4a4a4a;left:255.05px;width:80px;text-align:center;">高中部</div><div class="t" style="top:292.70px;font-size:7.3px;line-height:14.6px;color:#4a4a4a;left:318.90px;width:60px;text-align:center;"><span class="d" style="width:12.85px"><span style="font-size:8.6px;transform:scaleX(0.84)">1-1-</span></span>高中<span class="d" style="width:12.05px"><span style="font-size:8.6px;transform:scaleX(0.84)">204</span></span></div><div class="t" style="top:292.70px;font-size:7.3px;line-height:14.6px;color:#4a4a4a;left:374.90px;width:60px;text-align:center;"><span class="d" style="width:48.21px"><span style="font-size:8.6px;transform:scaleX(0.84)">221220020107</span></span></div><div class="b" style="left:482.60px;top:294.00px;width:21.50px;height:12.00px;background:#ff8b2c;border-radius:2px"></div><div class="t" style="top:292.50px;font-size:6.6px;line-height:13.2px;color:#fff;left:453.35px;width:80px;text-align:center;">合闸</div><div class="b" style="left:544.65px;top:294.00px;width:23.50px;height:12.00px;background:#1088ff;border-radius:2px"></div><div class="t" style="top:292.60px;font-size:6.5px;line-height:13.0px;color:#fff;left:516.40px;width:80px;text-align:center;">65.93</div><div class="b" style="left:594.50px;top:294.00px;width:10.00px;height:12.00px;background:#ff5a0a;border-radius:2px"></div><div class="t" style="top:292.40px;font-size:6.6px;line-height:13.2px;color:#fff;left:559.50px;width:80px;text-align:center;">-</div><div class="t" style="top:292.70px;font-size:7.3px;line-height:14.6px;color:#4a4a4a;left:598.90px;width:80px;text-align:center;"><span class="d" style="width:22.10px"><span style="font-size:8.6px;transform:scaleX(0.84)">654.41</span></span></div><div class="t" style="top:292.70px;font-size:7.3px;line-height:14.6px;color:#4a4a4a;left:634.50px;width:80px;text-align:center;"><span class="d" style="width:22.10px"><span style="font-size:8.6px;transform:scaleX(0.84)">654.41</span></span></div><div class="t" style="top:292.70px;font-size:7.3px;line-height:14.6px;color:#4a4a4a;left:674.10px;width:80px;text-align:center;"><span class="d" style="width:4.02px"><span style="font-size:8.6px;transform:scaleX(0.84)">0</span></span></div><div class="b" style="left:32.50px;top:49.80px;width:0.80px;height:263.00px;background:#ececec"></div><div class="b" style="left:89.50px;top:49.80px;width:0.80px;height:263.00px;background:#ececec"></div><div class="b" style="left:145.50px;top:49.80px;width:0.80px;height:263.00px;background:#ececec"></div><div class="b" style="left:181.40px;top:49.80px;width:0.80px;height:263.00px;background:#ececec"></div><div class="b" style="left:213.50px;top:49.80px;width:0.80px;height:263.00px;background:#ececec"></div><div class="b" style="left:267.80px;top:49.80px;width:0.80px;height:263.00px;background:#ececec"></div><div class="b" style="left:321.50px;top:49.80px;width:0.80px;height:263.00px;background:#ececec"></div><div class="b" style="left:375.50px;top:49.80px;width:0.80px;height:263.00px;background:#ececec"></div><div class="b" style="left:433.50px;top:49.80px;width:0.80px;height:263.00px;background:#ececec"></div><div class="b" style="left:472.70px;top:49.80px;width:0.80px;height:263.00px;background:#ececec"></div><div class="b" style="left:518.50px;top:49.80px;width:0.80px;height:263.00px;background:#ececec"></div><div class="b" style="left:536.70px;top:49.80px;width:0.80px;height:263.00px;background:#ececec"></div><div class="b" style="left:579.50px;top:49.80px;width:0.80px;height:263.00px;background:#ececec"></div><div class="b" style="left:622.50px;top:49.80px;width:0.80px;height:263.00px;background:#ececec"></div><div class="b" style="left:654.50px;top:49.80px;width:0.80px;height:263.00px;background:#ececec"></div><div class="b" style="left:693.70px;top:49.80px;width:0.80px;height:263.00px;background:#ececec"></div><div class="b" style="left:0.00px;top:49.80px;width:0.80px;height:263.00px;background:#e6e6e6"></div><div class="b" style="left:0.00px;top:312.80px;width:839.50px;height:4.00px;background:#f4f4f4"></div><div class="b" style="left:0.00px;top:313.10px;width:354.50px;height:3.60px;background:#c8c8c8;border-radius:2px"></div></div><div class="t" style="top:502.10px;font-size:7.5px;line-height:15.0px;color:#595959;left:762.40px;"><span class="d" style="width:14.77px"><span style="font-size:8.2px;transform:scaleX(0.9)">1-10</span></span> 共<span class="d" style="width:12.31px"><span style="font-size:8.2px;transform:scaleX(0.9)">131</span></span>条</div><svg class="b" style="left:814.2px;top:507.3px" width="4" height="4.8" viewBox="0 0 4 4.8"><path d="M3.4 .3 L1 2.4 L3.4 4.5" stroke="#bbb" stroke-width=".7" fill="none"/></svg><div class="b" style="left:822.20px;top:503.00px;width:12.50px;height:12.60px;box-sizing:border-box;border:0.8px solid #1890ff;border-radius:1.5px;background:#fff"></div><div class="t" style="top:502.10px;font-size:7.5px;line-height:15.0px;color:#1890ff;left:818.45px;width:20px;text-align:center;"><span class="d" style="width:4.10px"><span style="font-size:8.2px;transform:scaleX(0.9)">1</span></span></div><div class="t" style="top:502.10px;font-size:7.5px;line-height:15.0px;color:#595959;left:831.80px;width:20px;text-align:center;"><span class="d" style="width:4.10px"><span style="font-size:8.2px;transform:scaleX(0.9)">2</span></span></div><div class="t" style="top:502.10px;font-size:7.5px;line-height:15.0px;color:#595959;left:844.80px;width:20px;text-align:center;"><span class="d" style="width:4.10px"><span style="font-size:8.2px;transform:scaleX(0.9)">3</span></span></div><div class="t" style="top:502.10px;font-size:7.5px;line-height:15.0px;color:#595959;left:857.80px;width:20px;text-align:center;"><span class="d" style="width:4.10px"><span style="font-size:8.2px;transform:scaleX(0.9)">4</span></span></div><div class="t" style="top:502.10px;font-size:7.5px;line-height:15.0px;color:#595959;left:870.90px;width:20px;text-align:center;"><span class="d" style="width:4.10px"><span style="font-size:8.2px;transform:scaleX(0.9)">5</span></span></div><div class="t" style="top:502.10px;font-size:7.5px;line-height:15.0px;color:#595959;left:902.40px;width:20px;text-align:center;"><span class="d" style="width:8.21px"><span style="font-size:8.2px;transform:scaleX(0.9)">14</span></span></div><svg class="b" style="left:890.5px;top:507.5px" width="10" height="3" viewBox="0 0 10 3"><g fill="#a8a8a8"><circle cx="1.5" cy="1.5" r=".85"/><circle cx="5.1" cy="1.5" r=".85"/><circle cx="8.8" cy="1.5" r=".85"/></g></svg><svg class="b" style="left:924.6px;top:507.3px" width="4" height="4.8" viewBox="0 0 4 4.8"><path d="M.6 .3 L3 2.4 L.6 4.5" stroke="#777" stroke-width=".7" fill="none"/></svg><div class="t" style="top:504.60px;font-size:7.6px;line-height:15.2px;color:#595959;left:933.70px;">跳至</div><div class="b" style="left:953.30px;top:503.30px;width:23.20px;height:17.70px;box-sizing:border-box;border:0.8px solid #d9d9d9;border-radius:2px;background:#fff"></div><div class="t" style="top:504.60px;font-size:7.6px;line-height:15.2px;color:#595959;left:981.20px;">页</div><div class="b" style="left:1012.30px;top:76.40px;width:168.30px;height:107.80px;box-sizing:border-box;border:1px solid #b8b8b8;background:#fff"></div><div class="b" style="left:1013.30px;top:77.20px;width:166.30px;height:21.30px;background:#3eb0ff"></div><svg class="b" style="left:1013.9px;top:83.65px" width="9.2" height="8.5" viewBox="0 0 9.2 8.5"><rect x="0" y="0" width="9.1" height="8.4" rx=".9" fill="#fff"/><rect x="1.3" y="1.3" width="3.6" height="2" rx=".4" fill="#3eb0ff"/><rect x="6.3" y="2.3" width="1.7" height="1.8" fill="#3eb0ff"/><rect x="1.3" y="6.2" width="6.6" height="1.1" fill="#3eb0ff"/><rect x="1.6" y="4.6" width="5.8" height=".5" fill="#cfeaff"/></svg><div class="t" style="top:81.25px;font-size:7.4px;line-height:14.8px;color:#fff;left:1034.80px;">当日事件记录</div><div class="b" style="left:1014.90px;top:104.40px;width:48.00px;height:31.40px;background:linear-gradient(90deg,#45d6a0,#2ec88e);overflow:hidden"></div><div class="b" style="left:1016.90px;top:114.00px;width:18.00px;height:26.00px;background:rgba(255,255,255,.10);border-radius:50%"></div><div class="b" style="left:1048.90px;top:121.00px;width:22.00px;height:24.00px;background:rgba(255,255,255,.12);border-radius:50%"></div><div class="b" style="left:1014.90px;top:135.80px;width:48.00px;height:33.10px;background:#f3f4f9"></div><div class="t" style="top:112.80px;font-size:7.5px;line-height:15.0px;color:#fff;left:1008.90px;width:60px;text-align:center;">在线设备</div><div class="b" style="left:1070.10px;top:104.40px;width:48.10px;height:31.40px;background:linear-gradient(90deg,#ff8f8f,#ff5454);overflow:hidden"></div><div class="b" style="left:1072.10px;top:114.00px;width:18.00px;height:26.00px;background:rgba(255,255,255,.10);border-radius:50%"></div><div class="b" style="left:1104.20px;top:121.00px;width:22.00px;height:24.00px;background:rgba(255,255,255,.12);border-radius:50%"></div><div class="b" style="left:1070.10px;top:135.80px;width:48.10px;height:33.10px;background:#f3f4f9"></div><div class="t" style="top:112.80px;font-size:7.5px;line-height:15.0px;color:#fff;left:1064.15px;width:60px;text-align:center;">充值待写</div><div class="b" style="left:1126.00px;top:104.40px;width:48.00px;height:31.40px;background:linear-gradient(90deg,#5d86ff,#3568fb);overflow:hidden"></div><div class="b" style="left:1128.00px;top:114.00px;width:18.00px;height:26.00px;background:rgba(255,255,255,.10);border-radius:50%"></div><div class="b" style="left:1160.00px;top:121.00px;width:22.00px;height:24.00px;background:rgba(255,255,255,.12);border-radius:50%"></div><div class="b" style="left:1126.00px;top:135.80px;width:48.00px;height:33.10px;background:#f3f4f9"></div><div class="t" style="top:112.80px;font-size:7.5px;line-height:15.0px;color:#fff;left:1120.00px;width:60px;text-align:center;">失联装置</div><div class="b" style="left:1014.90px;top:114.00px;width:48.00px;height:22.00px;display:none"></div><div class="t" style="top:139.30px;font-size:10.2px;line-height:20.4px;color:#4a4a4a;font-weight:bold;left:1025.50px;">131</div><div class="t" style="top:144.40px;font-size:6.2px;line-height:12.4px;color:#4a4a4a;left:1045.40px;">台</div><div class="t" style="top:139.30px;font-size:10.2px;line-height:20.4px;color:#4a4a4a;font-weight:bold;left:1087.00px;">0</div><div class="t" style="top:144.40px;font-size:6.2px;line-height:12.4px;color:#4a4a4a;left:1095.80px;">项</div><div class="t" style="top:139.30px;font-size:10.2px;line-height:20.4px;color:#4a4a4a;font-weight:bold;left:1142.60px;">1</div><div class="t" style="top:144.40px;font-size:6.2px;line-height:12.4px;color:#4a4a4a;left:1151.00px;">台</div><div class="b" style="left:1012.30px;top:187.40px;width:168.30px;height:139.50px;box-sizing:border-box;border:1px solid #b8b8b8;background:#fff"></div><div class="b" style="left:1013.30px;top:188.20px;width:166.30px;height:21.50px;background:#3eb0ff"></div><svg class="b" style="left:1013.9px;top:194.75px" width="9.2" height="8.5" viewBox="0 0 9.2 8.5"><rect x="0" y="0" width="9.1" height="8.4" rx=".9" fill="#fff"/><rect x="1.3" y="1.3" width="3.6" height="2" rx=".4" fill="#3eb0ff"/><rect x="6.3" y="2.3" width="1.7" height="1.8" fill="#3eb0ff"/><rect x="1.3" y="6.2" width="6.6" height="1.1" fill="#3eb0ff"/><rect x="1.6" y="4.6" width="5.8" height=".5" fill="#cfeaff"/></svg><div class="t" style="top:192.35px;font-size:7.4px;line-height:14.8px;color:#fff;left:1034.80px;">用电概况</div><div class="b" style="left:1013.30px;top:304.90px;width:166.30px;height:1.00px;background:#dedede"></div><div class="b" style="left:1018.60px;top:215.60px;width:150.90px;height:21.30px;box-sizing:border-box;background:#f6f4fd;border:0.8px solid #ddd4f7;border-radius:5px"></div><div class="b" style="left:1018.60px;top:215.60px;width:62.20px;height:21.30px;background:#b4a0e6;border-radius:5px"></div><div class="t" style="top:220.20px;font-size:9.6px;line-height:19.2px;color:#fff;left:1019.70px;width:60px;text-align:center;">当日用电</div><div class="t" style="top:218.80px;font-size:9.4px;line-height:18.8px;color:#555;left:1100.60px;">535.0 kW·h</div><div class="b" style="left:1018.60px;top:247.20px;width:150.90px;height:21.30px;box-sizing:border-box;background:#e9f8fc;border:0.8px solid #c2edf5;border-radius:5px"></div><div class="b" style="left:1018.60px;top:247.20px;width:62.20px;height:21.30px;background:#2fc1da;border-radius:5px"></div><div class="t" style="top:251.80px;font-size:9.6px;line-height:19.2px;color:#fff;left:1019.70px;width:60px;text-align:center;">本月用电</div><div class="t" style="top:250.40px;font-size:9.4px;line-height:18.8px;color:#555;left:1100.60px;">1470.1 kW·h</div><div class="b" style="left:1018.60px;top:279.00px;width:150.90px;height:21.30px;box-sizing:border-box;background:#f2fae6;border:0.8px solid #d6efad;border-radius:5px"></div><div class="b" style="left:1018.60px;top:279.00px;width:62.20px;height:21.30px;background:#8ed400;border-radius:5px"></div><div class="t" style="top:283.60px;font-size:9.6px;line-height:19.2px;color:#fff;left:1019.70px;width:60px;text-align:center;">环 比</div><div class="t" style="top:282.20px;font-size:9.4px;line-height:18.8px;color:#555;left:1100.60px;">-0.9%</div><div class="b" style="left:1012.30px;top:333.30px;width:168.30px;height:139.50px;box-sizing:border-box;border:1px solid #b8b8b8;background:#fff"></div><div class="b" style="left:1013.30px;top:334.10px;width:166.30px;height:21.30px;background:#3eb0ff"></div><svg class="b" style="left:1013.9px;top:340.55px" width="9.2" height="8.5" viewBox="0 0 9.2 8.5"><rect x="0" y="0" width="9.1" height="8.4" rx=".9" fill="#fff"/><rect x="1.3" y="1.3" width="3.6" height="2" rx=".4" fill="#3eb0ff"/><rect x="6.3" y="2.3" width="1.7" height="1.8" fill="#3eb0ff"/><rect x="1.3" y="6.2" width="6.6" height="1.1" fill="#3eb0ff"/><rect x="1.6" y="4.6" width="5.8" height=".5" fill="#cfeaff"/></svg><div class="t" style="top:338.15px;font-size:7.4px;line-height:14.8px;color:#fff;left:1034.80px;">用水概况</div><div class="b" style="left:1013.30px;top:451.20px;width:166.30px;height:1.00px;background:#dedede"></div><div class="b" style="left:1018.60px;top:361.30px;width:150.90px;height:21.30px;box-sizing:border-box;background:#f6f4fd;border:0.8px solid #ddd4f7;border-radius:5px"></div><div class="b" style="left:1018.60px;top:361.30px;width:62.20px;height:21.30px;background:#b4a0e6;border-radius:5px"></div><div class="t" style="top:365.90px;font-size:9.6px;line-height:19.2px;color:#fff;left:1019.70px;width:60px;text-align:center;">当日用水</div><div class="t" style="top:364.50px;font-size:9.4px;line-height:18.8px;color:#555;left:1100.60px;">0.0 m³</div><div class="b" style="left:1018.60px;top:393.00px;width:150.90px;height:21.30px;box-sizing:border-box;background:#e9f8fc;border:0.8px solid #c2edf5;border-radius:5px"></div><div class="b" style="left:1018.60px;top:393.00px;width:62.20px;height:21.30px;background:#2fc1da;border-radius:5px"></div><div class="t" style="top:397.60px;font-size:9.6px;line-height:19.2px;color:#fff;left:1019.70px;width:60px;text-align:center;">本月用水</div><div class="t" style="top:396.20px;font-size:9.4px;line-height:18.8px;color:#555;left:1100.60px;">0.0 m³</div><div class="b" style="left:1018.60px;top:424.80px;width:150.90px;height:21.30px;box-sizing:border-box;background:#f2fae6;border:0.8px solid #d6efad;border-radius:5px"></div><div class="b" style="left:1018.60px;top:424.80px;width:62.20px;height:21.30px;background:#8ed400;border-radius:5px"></div><div class="t" style="top:429.40px;font-size:9.6px;line-height:19.2px;color:#fff;left:1019.70px;width:60px;text-align:center;">环 比</div><div class="t" style="top:428.00px;font-size:9.4px;line-height:18.8px;color:#555;left:1100.60px;">%</div><div class="b" style="left:1012.30px;top:478.80px;width:168.30px;height:54.80px;box-sizing:border-box;border:1px solid #b8b8b8;background:#fff"></div><div class="b" style="left:1013.30px;top:479.60px;width:166.30px;height:21.70px;background:#3eb0ff"></div><svg class="b" style="left:1013.9px;top:486.25px" width="9.2" height="8.5" viewBox="0 0 9.2 8.5"><rect x="0" y="0" width="9.1" height="8.4" rx=".9" fill="#fff"/><rect x="1.3" y="1.3" width="3.6" height="2" rx=".4" fill="#3eb0ff"/><rect x="6.3" y="2.3" width="1.7" height="1.8" fill="#3eb0ff"/><rect x="1.3" y="6.2" width="6.6" height="1.1" fill="#3eb0ff"/><rect x="1.6" y="4.6" width="5.8" height=".5" fill="#cfeaff"/></svg><div class="t" style="top:483.85px;font-size:7.4px;line-height:14.8px;color:#fff;left:1034.80px;">用水概况</div><div class="b" style="left:1012.30px;top:533.00px;width:168.30px;height:5.00px;box-sizing:border-box;border:1px solid #c8c8c8;border-top:none;background:#fff"></div><div class="b" style="left:1018.60px;top:507.00px;width:150.90px;height:21.30px;box-sizing:border-box;background:#f6f4fd;border:0.8px solid #ddd4f7;border-radius:5px"></div><div class="b" style="left:1018.60px;top:507.00px;width:62.20px;height:21.30px;background:#b4a0e6;border-radius:5px"></div><div class="t" style="top:511.60px;font-size:9.6px;line-height:19.2px;color:#fff;left:1019.70px;width:60px;text-align:center;">当日充值</div><div class="t" style="top:510.20px;font-size:9.4px;line-height:18.8px;color:#555;left:1102.80px;">¥160.0</div><div class="b" style="left:1013.30px;top:532.80px;width:166.30px;height:0.80px;background:#e3e3e3"></div><div class="b" style="left:931.30px;top:586.40px;width:129.00px;height:20.00px;box-sizing:border-box;background:#fff;border:0.9px solid #c8d6ea;border-radius:1.5px"></div><svg class="b" style="left:915.5px;top:581.5px" width="28" height="27" viewBox="0 0 28 27"><defs><linearGradient id="sg" x1="0" y1="0" x2="1" y2="1"><stop offset="0" stop-color="#f26a2e"/><stop offset="1" stop-color="#ee4f14"/></linearGradient></defs><g transform="rotate(-15 14 13.5)"><rect x="3.2" y="2.7" width="21.6" height="21.6" rx="2.6" fill="url(#sg)"/><path d="M20.5 8.2 Q16 6.2 11 7 Q6.6 8 7.6 10.6 Q8.6 12.6 14 13.2 Q19.8 14 19.6 16.6 Q19 19.3 13.6 19.6 Q9.6 19.8 6.8 18.6" stroke="#fff" stroke-width="3.1" fill="none" stroke-linecap="round"/></g></svg><svg class="b" style="left:946.8px;top:590.8px" width="12" height="11.4" viewBox="0 0 12 11.4"><rect x="1" y="2.6" width="10" height="5.6" rx=".4" stroke="#1570d8" stroke-width="1.7" fill="none"/><line x1="6" y1="0" x2="6" y2="11.2" stroke="#1570d8" stroke-width="1.8"/></svg><svg class="b" style="left:967.6px;top:593.2px" width="10" height="8" viewBox="0 0 10 8"><circle cx="2.2" cy="2.2" r="1.45" stroke="#1570d8" stroke-width="1.05" fill="none"/><path d="M7.4 2.6 Q8.9 2.8 8.3 4.6 Q7.9 5.9 6.6 6.7" stroke="#1570d8" stroke-width="1.5" fill="none"/><circle cx="7.3" cy="3.5" r="1.1" fill="#1570d8"/></svg><svg class="b" style="left:986.6px;top:589.8px" width="10.4" height="13.4" viewBox="0 0 10.4 13.4"><rect x="3.1" y=".4" width="4.2" height="7.6" rx="2.1" fill="#1570d8"/><path d="M.9 5 Q.9 9.6 5.2 9.6 Q9.5 9.6 9.5 5" stroke="#1570d8" stroke-width="1.1" fill="none"/><line x1="5.2" y1="9.6" x2="5.2" y2="11.6" stroke="#1570d8" stroke-width="1.1"/><rect x="3.6" y="11.7" width="3.2" height="1.2" rx=".5" fill="#1570d8"/></svg><svg class="b" style="left:1005.5px;top:591.8px" width="11.8" height="10" viewBox="0 0 11.8 10"><rect x="0" y="0" width="11.8" height="10" rx="1.4" fill="#1570d8"/><g fill="#fff"><rect x="1.3" y="1.6" width="1.9" height="1.7"/><rect x="3.9" y="1.6" width="1.9" height="1.7"/><rect x="6.5" y="1.6" width="1.9" height="1.7"/><rect x="9" y="1.6" width="1.6" height="1.7"/><rect x="1.3" y="4.2" width="1.9" height="1.6"/><rect x="3.9" y="4.2" width="1.9" height="1.6"/><rect x="6.5" y="4.2" width="1.9" height="1.6"/><rect x="9" y="4.2" width="1.6" height="1.6"/><rect x="1.3" y="6.7" width="9.3" height="1.6"/></g></svg><svg class="b" style="left:1025px;top:591.2px" width="12" height="11" viewBox="0 0 12 11"><path d="M3.6 0 Q6 1.6 8.4 0 L11.6 1.4 Q12.2 2.3 11.8 3.8 L9.6 4.2 L9.6 11 L2.4 11 L2.4 4.2 L.2 3.8 Q-.2 2.3 .4 1.4 Z" fill="#1570d8"/></svg><svg class="b" style="left:1044.3px;top:590.9px" width="11.6" height="11.4" viewBox="0 0 11.6 11.4"><g fill="#1570d8"><rect x="0" y="0" width="5.5" height="5.4" rx="2"/><rect x="6.1" y="0" width="5.5" height="5.4" rx="2"/><rect x="0" y="6" width="5.5" height="5.4" rx="2"/><rect x="6.1" y="6" width="5.5" height="5.4" rx="2"/><rect x="3.5" y="3.4" width="4.6" height="4.6"/></g><circle cx="8.6" cy="2.6" r=".9" fill="#fff"/></svg>
</body></html>
